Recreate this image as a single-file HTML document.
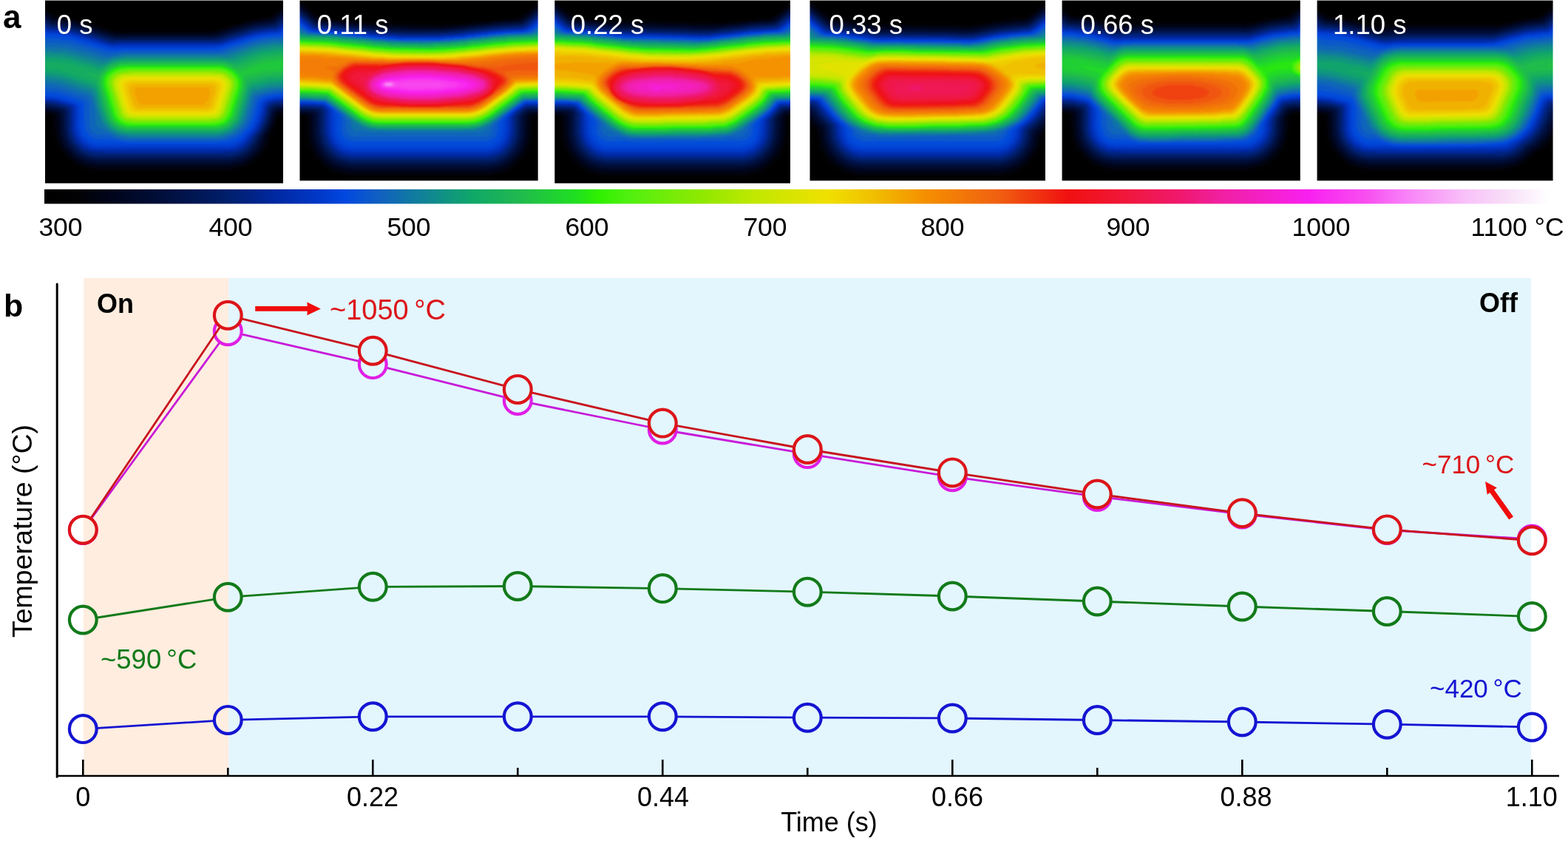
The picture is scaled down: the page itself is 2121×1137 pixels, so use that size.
<!DOCTYPE html><html><head><meta charset="utf-8"><title>Temperature</title><style>html,body{margin:0;padding:0;background:#fff;overflow:hidden}svg{display:block}text{font-family:'Liberation Sans', Arial, sans-serif}</style></head><body>
<svg width="2121" height="1137" viewBox="0 0 2121 1137">
<defs>
<filter id="cm" x="0" y="0" width="1" height="1" filterUnits="objectBoundingBox" color-interpolation-filters="sRGB"><feGaussianBlur stdDeviation="1.5"/><feComponentTransfer><feFuncR type="table" tableValues="0.000 0.006 0.004 0.000 0.000 0.000 0.000 0.000 0.000 0.000 0.000 0.000 0.000 0.009 0.052 0.063 0.063 0.063 0.063 0.088 0.121 0.125 0.125 0.149 0.229 0.326 0.406 0.486 0.566 0.651 0.737 0.801 0.861 0.921 0.941 0.941 0.948 0.957 0.957 0.951 0.945 0.941 0.941 0.941 0.941 0.941 0.941 0.941 0.941 0.941 0.941 0.949 0.958 0.966 0.973 0.973 0.973 0.973 0.973 0.973 0.973 0.973 0.973 0.984 1.000"/><feFuncG type="table" tableValues="0.000 0.006 0.012 0.021 0.039 0.057 0.078 0.102 0.125 0.143 0.164 0.197 0.237 0.295 0.360 0.430 0.501 0.572 0.642 0.684 0.717 0.776 0.838 0.902 0.941 0.940 0.930 0.920 0.910 0.910 0.910 0.902 0.892 0.882 0.834 0.768 0.687 0.601 0.530 0.470 0.411 0.331 0.226 0.121 0.068 0.080 0.091 0.094 0.094 0.105 0.125 0.125 0.125 0.125 0.142 0.217 0.292 0.398 0.515 0.615 0.715 0.794 0.860 0.930 1.000"/><feFuncB type="table" tableValues="0.000 0.012 0.055 0.113 0.172 0.231 0.297 0.367 0.438 0.544 0.645 0.727 0.810 0.861 0.774 0.689 0.603 0.516 0.429 0.370 0.320 0.248 0.174 0.078 0.021 0.060 0.040 0.020 0.000 0.000 0.000 0.000 0.000 0.000 0.000 0.000 0.000 0.000 0.011 0.031 0.051 0.063 0.063 0.063 0.094 0.164 0.235 0.317 0.402 0.507 0.627 0.710 0.793 0.876 0.941 0.941 0.941 0.955 0.973 0.973 0.973 0.973 0.973 0.984 1.000"/></feComponentTransfer></filter>
<linearGradient id="cb" x1="0" x2="1" y1="0" y2="0">
<stop offset="0.0000" stop-color="#000000"/>
<stop offset="0.0206" stop-color="#020204"/>
<stop offset="0.0418" stop-color="#000418"/>
<stop offset="0.0835" stop-color="#001040"/>
<stop offset="0.1253" stop-color="#002070"/>
<stop offset="0.1528" stop-color="#0028a0"/>
<stop offset="0.1828" stop-color="#0038c8"/>
<stop offset="0.2000" stop-color="#0048e0"/>
<stop offset="0.2226" stop-color="#1060c0"/>
<stop offset="0.2570" stop-color="#108890"/>
<stop offset="0.2850" stop-color="#10a868"/>
<stop offset="0.3145" stop-color="#20b850"/>
<stop offset="0.3538" stop-color="#20e020"/>
<stop offset="0.3686" stop-color="#30f000"/>
<stop offset="0.3882" stop-color="#50f010"/>
<stop offset="0.4373" stop-color="#90e800"/>
<stop offset="0.4717" stop-color="#c0e800"/>
<stop offset="0.5209" stop-color="#f0e000"/>
<stop offset="0.5504" stop-color="#f0c000"/>
<stop offset="0.5848" stop-color="#f59000"/>
<stop offset="0.6339" stop-color="#f06010"/>
<stop offset="0.6806" stop-color="#f01010"/>
<stop offset="0.7224" stop-color="#f01840"/>
<stop offset="0.7568" stop-color="#f01870"/>
<stop offset="0.7813" stop-color="#f020a0"/>
<stop offset="0.8403" stop-color="#f820f0"/>
<stop offset="0.8796" stop-color="#f850f0"/>
<stop offset="0.9042" stop-color="#f880f8"/>
<stop offset="0.9435" stop-color="#f8c0f8"/>
<stop offset="0.9730" stop-color="#f8e0f8"/>
<stop offset="1.0000" stop-color="#ffffff"/>
</linearGradient>
<clipPath id="c0"><rect x="61" y="1" width="322" height="246.8"/></clipPath>
<clipPath id="c1"><rect x="405.5" y="1" width="322.2" height="243.2"/></clipPath>
<clipPath id="c2"><rect x="750.3" y="1" width="318.7" height="246.8"/></clipPath>
<clipPath id="c3"><rect x="1095.5" y="1" width="318.5" height="243.2"/></clipPath>
<clipPath id="c4"><rect x="1436.6" y="1" width="322.2" height="243.2"/></clipPath>
<clipPath id="c5"><rect x="1781.6" y="1" width="319" height="243.2"/></clipPath>
<linearGradient id="bgf" gradientUnits="userSpaceOnUse" x1="0" y1="0" x2="2121" y2="0"><stop offset="0.05342" stop-color="#fff"/><stop offset="0.05342" stop-color="#ffeddf"/><stop offset="0.14592" stop-color="#ffeddf"/><stop offset="0.14592" stop-color="#e3f6fd"/><stop offset="0.97643" stop-color="#e3f6fd"/><stop offset="0.97643" stop-color="#fff"/></linearGradient>
</defs>
<g clip-path="url(#c0)"><g transform="translate(61 1)" filter="url(#cm)">
<rect x="-12" y="-12" width="346" height="271" fill="#000"/>
<path fill="#040404" d="M333 3 325 4 318 7 305 18 301 20 281 23 227 38 95 38 41 23 19 20 14 18 7 12 0 8 -7 6 -12 6 -12 154 -10 155 1 155 5 156 8 159 9 180 11 189 16 201 23 211 30 218 40 225 52 230 61 232 70 232 71 233 248 233 249 232 263 231 275 227 289 218 296 211 303 201 308 189 310 179 313 174 318 159 321 156 324 155 333 155Z"/>
<path fill="#070707" d="M333 6 325 7 319 10 303 22 277 26 227 41 217 41 216 42 102 42 101 41 95 41 45 26 30 23 17 22 12 20 6 15 -3 10 -12 9 -12 152 4 153 8 154 12 157 12 170 13 171 14 185 17 194 22 203 38 219 47 224 56 227 70 228 71 229 248 229 249 228 263 227 272 224 285 216 297 203 302 194 305 182 311 170 315 157 318 154 321 153 333 152Z"/>
<path fill="#0a0a0a" d="M333 8 330 8 320 12 304 24 281 27 255 34 235 41 220 44 101 44 87 41 67 34 41 27 13 23 -2 13 -12 11 -12 150 -10 151 9 152 12 153 15 156 16 180 19 191 23 199 35 213 42 218 53 223 61 225 69 225 70 226 249 226 269 222 284 213 296 199 300 191 303 180 309 169 314 154 320 151 333 151Z"/>
<path fill="#0d0d0d" d="M333 10 322 13 307 25 280 29 226 45 96 45 42 29 13 25 -2 15 -12 13 -12 149 9 150 13 151 17 154 18 156 19 182 21 189 26 199 39 213 55 221 65 223 254 223 267 220 280 213 291 202 307 169 312 153 316 150 333 149Z"/>
<path fill="#101010" d="M333 12 329 12 322 15 306 27 283 30 260 36 233 45 223 47 98 47 39 30 22 28 21 27 14 27 9 25 -4 16 -12 15 -12 147 12 149 16 150 20 154 21 180 24 190 28 198 43 213 57 219 67 220 68 221 251 221 268 217 280 210 291 198 297 183 305 169 311 151 317 148 333 147Z"/>
<path fill="#121212" d="M333 13 322 17 308 28 281 32 226 48 95 48 41 32 25 29 11 28 0 20 -6 17 -12 16 -12 146 0 146 1 147 15 148 18 149 22 153 23 179 25 187 30 197 41 209 57 217 69 218 70 219 249 219 265 216 278 209 287 200 296 181 303 170 309 151 314 147 333 146Z"/>
<path fill="#151515" d="M333 15 325 17 313 27 307 30 283 33 229 49 93 49 39 33 9 29 -3 20 -12 18 -12 144 6 145 20 148 24 152 25 179 30 193 34 199 42 207 52 213 62 216 69 216 70 217 249 217 267 213 277 207 285 199 289 193 293 183 301 171 309 148 316 145 333 144Z"/>
<path fill="#181818" d="M333 17 325 19 309 31 281 35 231 50 108 50 107 51 96 51 41 35 25 32 10 31 -1 23 -8 20 -12 20 -12 143 10 144 22 147 26 151 26 172 27 173 28 183 31 191 39 202 45 207 58 213 68 214 69 215 250 215 264 212 274 207 285 196 290 185 296 177 302 165 307 148 310 145 313 144 333 143Z"/>
<path fill="#1b1b1b" d="M333 18 323 22 311 32 283 36 257 43 237 50 226 51 225 52 93 52 39 36 8 32 -1 25 -12 21 -12 141 5 142 24 146 28 150 28 173 30 183 35 194 47 206 58 211 68 213 251 213 264 210 276 203 284 194 288 185 295 176 300 166 306 147 311 143 333 141Z"/>
<path fill="#1e1e1e" d="M333 20 326 22 310 34 285 37 229 53 91 53 57 42 37 37 19 35 18 34 10 34 5 32 -4 25 -12 23 -12 140 9 141 27 146 30 150 31 180 36 192 46 203 61 210 66 210 67 211 252 211 264 208 273 203 283 192 285 187 294 175 299 165 304 148 307 143 313 141 333 140Z"/>
<path fill="#212121" d="M333 21 326 24 312 35 292 37 282 40 278 40 231 54 89 54 44 40 23 36 8 35 5 34 -2 28 -12 24 -12 138 11 140 29 145 32 150 32 175 37 190 44 199 51 204 61 208 66 209 253 209 264 206 277 197 285 184 293 174 299 161 303 146 306 142 311 140 332 139 333 138Z"/>
<path fill="#232323" d="M333 23 327 25 315 35 310 37 302 37 301 38 295 38 280 41 234 55 100 55 99 56 92 56 42 41 27 38 21 38 20 37 6 36 -5 28 -12 26 -12 137 8 138 29 143 33 147 34 150 34 176 39 190 51 202 65 207 254 207 268 202 280 190 283 184 292 173 296 165 302 145 306 140 314 138 333 137Z"/>
<path fill="#262626" d="M333 25 327 27 313 38 298 39 282 42 236 56 104 56 103 57 90 57 40 42 24 39 17 39 16 38 7 38 4 37 -5 30 -12 27 -12 136 11 137 32 143 35 146 36 176 38 183 42 191 50 199 61 204 78 205 79 206 240 206 241 205 258 204 269 199 277 191 281 184 289 175 294 166 301 143 305 139 311 137 333 136Z"/>
<path fill="#292929" d="M333 27 330 27 314 39 284 43 232 58 96 58 95 59 84 57 64 50 38 43 22 41 21 40 5 39 -6 31 -12 29 -12 134 13 136 34 142 37 145 38 176 40 183 44 190 51 197 61 202 81 203 82 204 237 204 238 203 258 202 268 197 288 174 293 164 300 141 303 138 316 135 333 134Z"/>
<path fill="#2c2c2c" d="M333 28 327 31 318 39 313 41 304 41 303 42 297 42 281 45 235 59 101 59 100 60 90 60 36 44 19 42 18 41 3 40 -6 33 -12 31 -12 133 10 134 36 141 39 144 40 147 40 174 42 182 46 189 52 195 62 200 67 201 252 201 257 200 267 195 285 175 292 162 298 141 303 136 313 134 333 133Z"/>
<path fill="#2f2f2f" d="M333 30 327 33 316 42 300 43 279 47 232 61 97 61 94 62 84 60 64 53 38 46 22 43 4 42 -8 34 -12 33 -12 131 13 133 38 140 42 144 42 171 44 180 51 191 64 198 69 198 70 199 249 199 250 198 255 198 268 191 284 173 289 164 296 141 300 136 309 133 331 132 333 131Z"/>
<path fill="#323232" d="M333 33 329 34 320 42 315 44 305 44 304 45 291 46 267 52 240 61 229 62 228 63 89 63 35 47 1 43 -7 37 -12 35 -12 129 -11 130 17 132 42 140 45 144 45 172 47 180 49 184 57 192 64 195 69 196 250 196 255 195 262 192 267 188 282 172 288 160 294 139 299 134 312 131 333 130Z"/>
<path fill="#343434" d="M333 35 319 45 304 46 303 47 296 47 286 49 231 65 97 65 94 66 84 64 38 50 22 48 21 47 14 47 13 46 3 46 -2 44 -8 39 -12 38 -12 127 18 130 30 133 46 139 48 142 49 174 51 180 58 188 67 192 114 193 115 194 229 194 230 193 252 192 258 190 264 186 280 170 284 162 291 138 296 133 313 129 333 128Z"/>
<path fill="#373737" d="M333 39 327 42 323 46 318 48 307 48 306 49 299 49 284 52 235 67 103 67 102 68 86 68 38 54 21 52 20 51 3 50 -7 43 -12 41 -12 123 15 125 34 130 50 136 53 139 53 167 55 176 61 184 68 187 93 188 108 191 236 191 237 190 244 190 259 185 265 181 276 170 281 160 288 136 292 132 296 130 310 127 333 126Z"/>
<path fill="#3a3a3a" d="M333 44 323 50 306 51 305 52 299 52 284 55 235 70 100 70 93 72 83 72 57 64 31 58 3 56 -9 47 -12 46 -12 117 18 120 55 132 59 136 60 141 60 170 62 175 66 179 71 181 86 182 96 186 105 188 238 188 239 187 244 187 259 181 270 172 277 160 285 133 288 130 296 127 311 124 333 123Z"/>
<path fill="#3d3d3d" d="M333 51 325 53 306 54 305 55 289 57 241 72 104 72 88 76 80 76 60 70 28 63 -1 62 -2 61 -12 60 -12 111 16 114 59 128 64 135 67 148 69 168 73 172 99 184 109 185 110 186 234 186 235 185 241 185 257 179 269 168 274 158 282 131 286 127 311 121 333 120Z"/>
<path fill="#404040" d="M333 55 294 59 278 63 246 74 109 74 108 75 94 76 83 80 76 80 64 76 29 68 2 67 1 66 -12 65 -12 106 20 110 61 124 66 131 71 151 77 166 87 176 100 182 114 183 115 184 229 184 230 183 239 183 252 179 263 171 270 160 279 130 284 124 304 119 333 117Z"/>
<path fill="#434343" d="M333 58 306 60 290 63 246 77 239 77 238 76 108 76 107 77 94 78 79 84 24 71 -12 69 -12 103 7 104 23 107 62 120 67 126 72 145 79 164 88 174 101 180 113 181 114 182 230 182 231 181 239 181 253 176 264 166 270 153 270 150 275 137 277 128 281 122 304 116 333 114Z"/>
<path fill="#454545" d="M333 61 315 62 314 63 306 63 305 64 295 65 283 68 252 79 242 79 241 78 104 78 91 81 78 87 74 87 33 76 21 75 20 74 3 74 2 73 -12 72 -12 99 16 102 35 107 65 118 68 122 74 144 81 163 90 173 100 178 110 180 234 180 244 178 251 175 262 165 267 155 276 124 280 119 304 113 333 111Z"/>
<path fill="#484848" d="M333 64 316 65 315 66 307 66 306 67 296 68 284 71 256 81 245 81 244 80 101 80 88 84 77 90 71 90 67 88 30 79 -12 76 -12 96 -3 96 -2 97 7 97 8 98 19 99 34 104 37 104 43 107 65 114 70 121 77 147 84 164 89 170 95 174 107 178 237 178 251 173 259 166 264 157 275 121 279 116 303 110 333 108Z"/>
<path fill="#4b4b4b" d="M333 67 309 69 293 72 257 84 252 84 239 81 106 81 92 84 85 87 76 93 71 94 54 89 50 89 30 84 -12 82 -12 90 3 91 4 92 20 94 42 101 67 111 70 115 78 144 86 164 93 171 99 174 112 177 232 177 233 176 239 176 251 171 259 163 268 139 274 117 279 112 308 106 333 105Z"/>
<path fill="#4e4e4e" d="M333 70 299 74 287 77 259 87 243 83 101 83 91 86 83 90 72 99 69 100 61 98 54 98 67 104 70 107 83 154 89 165 98 172 108 175 236 175 248 171 258 161 263 149 263 146 268 133 273 114 276 110 298 104 332 102 333 101Z"/>
<path fill="#515151" d="M333 74 302 77 286 81 262 90 258 90 252 87 241 84 104 84 90 88 80 94 73 103 73 113 87 159 92 166 102 172 110 174 234 174 242 172 248 169 256 161 259 155 269 124 272 109 275 106 295 101 308 100 309 99 333 98Z"/>
<path fill="#545454" d="M333 78 301 82 281 88 267 94 261 94 248 87 238 86 237 85 108 85 107 86 100 86 87 91 77 100 75 105 75 114 88 157 91 162 97 168 103 171 113 172 114 173 230 173 231 172 241 171 247 168 254 161 258 153 260 144 265 131 265 128 269 117 269 106 272 101 302 95 333 94Z"/>
<path fill="#565656" d="M77 104 77 115 89 155 92 161 97 166 108 171 236 171 246 167 254 158 267 118 267 105 265 100 255 92 243 87 102 87 90 91 85 94 79 100Z"/>
<path fill="#595959" d="M78 108 79 117 86 138 86 141 94 161 101 167 110 170 234 170 245 166 251 160 254 154 266 115 265 105 262 100 254 93 241 88 104 88 96 90 86 95 81 100Z"/>
<path fill="#5c5c5c" d="M80 106 81 118 94 158 102 166 112 169 232 169 240 167 244 165 252 155 264 117 264 108 259 99 253 94 240 89 105 89 97 91 87 96 83 100Z"/>
<path fill="#5f5f5f" d="M82 105 82 115 94 155 100 163 105 166 113 168 231 168 239 166 243 164 248 159 252 151 262 118 262 107 258 100 252 95 246 92 238 90 107 90 106 91 101 91 91 95 84 101Z"/>
<path fill="#626262" d="M83 107 83 113 94 151 98 159 106 165 115 167 229 167 238 165 242 163 247 158 250 152 261 116 261 109 257 101 248 94 237 91 108 91 107 92 102 92 92 96 85 102Z"/>
<path fill="#656565" d="M85 106 85 116 92 137 92 140 99 158 107 164 116 166 228 166 229 165 235 165 241 162 246 157 250 148 250 145 259 118 259 107 256 102 252 98 245 94 235 92 110 92 109 93 99 94 91 98Z"/>
<path fill="#676767" d="M86 107 87 118 94 139 94 142 100 157 107 163 117 165 227 165 237 163 245 156 247 152 258 117 258 109 256 104 250 98 241 94 235 94 234 93 111 93 110 94 103 94 93 98 88 103Z"/>
<path fill="#6a6a6a" d="M87 110 95 141 101 156 108 162 118 164 226 164 236 162 242 158 246 151 257 115 256 107 249 99 241 95 234 95 233 94 112 94 111 95 100 96 94 99 89 104Z"/>
<path fill="#6d6d6d" d="M89 107 89 115 101 154 105 159 111 162 118 162 119 163 225 163 226 162 233 162 239 159 242 156 245 150 255 118 255 108 252 103 243 97 233 96 232 95 113 95 98 98 93 101Z"/>
<path fill="#707070" d="M90 108 91 118 102 153 109 160 120 161 121 162 224 162 225 161 235 160 241 155 244 149 254 117 254 109 248 101 240 97 232 97 231 96 114 96 113 97 101 98 95 101Z"/>
<path fill="#737373" d="M92 107 92 117 104 154 110 159 121 160 122 161 222 161 223 160 234 159 240 154 243 148 253 115 252 108 246 101 239 98 230 98 229 97 115 97 114 98 105 98 99 100Z"/>
<path fill="#767676" d="M93 108 93 115 105 153 109 157 114 159 126 159 127 160 217 160 218 159 231 159 235 157 241 150 251 118 251 109 245 102 238 99 226 99 225 98 120 98 119 99 106 99 98 102Z"/>
<path fill="#787878" d="M94 110 95 118 104 148 106 152 114 158 230 158 236 155 239 151 250 116 250 111 247 105 238 100 107 100 99 103 95 107Z"/>
<path fill="#7b7b7b" d="M96 109 96 116 106 149 111 155 116 157 229 157 235 154 239 147 248 118 248 110 246 106 237 101 108 101 100 104Z"/>
<path fill="#7e7e7e" d="M98 109 98 117 107 147 112 154 117 156 227 156 232 154 236 150 247 116 246 109 241 104 235 102 109 102 101 105Z"/>
<path fill="#818181" d="M99 112 100 119 109 148 112 152 120 155 224 155 229 154 234 150 237 144 237 141 245 117 244 109 241 106 233 103 112 103 104 105 100 109Z"/>
<path fill="#848484" d="M101 113 108 140 112 149 115 152 126 153 127 154 217 154 218 153 226 153 229 152 235 144 243 118 243 112 241 108 235 105 227 105 226 104 119 104 118 105 106 106 103 108Z"/>
<path fill="#878787" d="M104 111 104 119 112 145 116 150 122 152 223 152 228 150 232 146 241 117 240 111 237 108 231 106 113 106 107 108Z"/>
<path fill="#898989" d="M106 114 108 125 113 141 116 147 122 150 222 150 229 146 238 120 237 111 231 108 113 108 110 109Z"/>
<path fill="#8c8c8c" d="M110 114 110 121 116 141 121 147 125 148 220 148 225 146 228 142 235 120 234 113 228 110 116 110 113 111Z"/>
<path fill="#8f8f8f" d="M114 117 115 126 121 142 126 145 218 145 221 144 224 141 230 124 230 116 225 113 119 113 115 115Z"/>
<path fill="#929292" d="M121 121 121 125 125 137 132 141 212 141 216 140 220 136 223 128 223 120 221 118 217 117 127 117 122 119Z"/>
</g></g>
<text x="76.8" y="46.3" font-size="36.5" fill="#fff">0 s</text>
<g clip-path="url(#c1)"><g transform="translate(405.5 1)" filter="url(#cm)">
<rect x="-12" y="-12" width="347" height="268" fill="#000"/>
<path fill="#040404" d="M-12 -4 -12 156 0 157 4 159 5 161 5 181 9 199 15 211 21 219 35 231 47 237 65 241 259 241 274 238 289 231 297 225 309 211 315 199 318 188 319 161 321 158 334 156 334 -1 325 0 317 4 299 18 291 22 263 24 262 25 234 27 233 28 224 28 223 29 170 29 169 28 84 26 83 25 65 25 64 24 50 24 49 23 32 22 25 18 5 1 -3 -3Z"/>
<path fill="#070707" d="M-12 -1 -12 154 -11 155 4 155 9 158 10 161 10 184 14 199 23 214 32 223 39 228 47 232 62 236 262 236 277 232 285 228 292 223 301 214 306 207 310 199 314 184 314 161 315 158 320 155 333 155 334 154 334 2 325 3 319 6 301 20 293 24 272 25 271 26 262 26 261 27 225 30 224 31 214 31 213 32 183 33 182 32 97 30 96 29 85 29 84 28 73 28 72 27 30 24 23 20 1 2 -7 -1Z"/>
<path fill="#0a0a0a" d="M-12 1 -12 153 9 154 12 156 13 158 14 187 17 197 22 207 35 221 49 229 66 233 258 233 259 232 269 231 285 224 302 207 307 197 310 187 311 158 312 156 315 154 334 153 334 4 329 4 318 9 303 21 296 25 257 28 256 29 248 29 247 30 239 30 238 31 230 31 220 33 210 33 209 34 176 35 175 34 143 34 142 33 96 32 95 31 86 31 76 29 27 25 2 5 -7 1Z"/>
<path fill="#0d0d0d" d="M-12 2 -12 152 7 152 12 153 15 155 16 157 16 181 20 197 27 209 37 219 49 226 65 230 259 230 275 226 287 219 297 209 301 203 307 187 308 158 312 153 317 152 334 152 334 5 323 8 300 25 294 27 270 28 269 29 260 29 259 30 214 34 213 35 202 35 201 36 145 36 144 35 101 34 100 33 91 33 90 32 53 29 52 28 29 27 22 24 2 7 -6 3Z"/>
<path fill="#101010" d="M-12 4 -12 151 11 151 15 152 18 155 19 184 22 195 26 203 32 211 40 218 51 224 62 227 73 227 74 228 250 228 251 227 267 226 284 218 292 211 298 203 302 195 305 184 306 156 310 152 313 151 334 151 334 7 330 7 321 11 303 25 296 28 272 29 271 30 262 30 261 31 253 31 252 32 244 32 243 33 235 33 234 34 226 34 216 36 205 36 204 37 154 38 153 37 109 36 108 35 88 34 87 33 51 30 50 29 27 28 21 25 -1 7 -8 4Z"/>
<path fill="#121212" d="M-12 5 -12 149 -8 150 14 150 18 151 21 155 21 181 25 196 31 206 40 215 50 221 65 225 259 225 260 224 265 224 274 221 284 215 293 206 297 200 302 187 302 182 303 181 303 158 304 155 311 150 330 150 334 149 334 8 328 9 322 12 304 26 298 29 274 30 273 31 254 32 253 33 208 37 207 38 193 38 192 39 142 39 141 38 106 37 105 36 96 36 95 35 87 35 86 34 78 34 77 33 69 33 59 31 26 29 20 26 -2 8Z"/>
<path fill="#151515" d="M-12 7 -12 148 17 149 20 150 23 153 23 180 27 195 33 205 41 213 51 219 66 223 258 223 259 222 264 222 273 219 283 213 291 205 295 199 300 186 300 181 301 180 301 157 307 150 310 149 334 148 334 10 330 10 321 14 306 26 299 30 275 31 274 32 255 33 246 35 238 35 237 36 229 36 219 38 209 38 208 39 196 39 195 40 131 40 130 39 115 39 114 38 94 37 93 36 48 32 47 31 25 30 19 27 -1 10 -8 7Z"/>
<path fill="#181818" d="M-12 8 -12 147 19 148 22 149 25 152 25 179 28 192 34 203 43 212 54 218 67 221 257 221 267 219 281 212 292 200 298 185 299 157 305 150 309 148 334 147 334 11 331 11 322 15 300 31 266 33 265 34 257 34 256 35 248 35 247 36 239 36 238 37 230 37 220 39 211 39 210 40 198 40 197 41 126 41 125 40 102 39 101 38 93 38 92 37 84 37 83 36 57 34 56 33 24 31 17 27 -2 11 -9 8Z"/>
<path fill="#1b1b1b" d="M-12 9 -12 146 21 147 24 148 27 151 27 178 31 194 36 202 44 210 52 215 68 219 256 219 257 218 263 218 272 215 280 210 288 202 292 196 296 185 297 157 304 149 308 147 334 146 334 12 326 14 301 32 267 34 266 35 258 35 257 36 249 36 248 37 240 37 239 38 231 38 221 40 212 40 211 41 200 41 199 42 124 42 123 41 101 40 100 39 92 39 91 38 83 38 82 37 74 37 73 36 65 36 55 34 23 32 19 30 -3 12Z"/>
<path fill="#1e1e1e" d="M-12 10 -12 145 23 146 26 147 29 150 29 178 32 191 37 200 46 209 55 214 68 217 256 217 257 216 262 216 269 214 278 209 289 197 293 188 295 178 295 157 302 149 307 146 334 145 334 13 325 16 302 33 269 35 268 36 259 36 258 37 213 41 212 42 201 42 200 43 144 44 143 43 110 42 109 41 100 41 99 40 91 40 90 39 82 39 81 38 73 38 72 37 64 37 54 35 22 33 18 31 -2 14Z"/>
<path fill="#212121" d="M-12 12 -12 144 11 144 12 145 25 145 28 146 31 149 31 178 35 193 44 205 51 210 58 213 68 215 256 215 257 214 262 214 276 208 283 202 288 195 291 188 293 178 293 157 300 149 306 145 311 145 312 144 334 144 334 15 331 15 324 18 309 30 302 34 270 36 269 37 260 37 259 38 214 42 213 43 203 43 202 44 140 45 139 44 120 44 119 43 99 42 98 41 90 41 89 40 81 40 80 39 72 39 62 37 21 34 -6 13Z"/>
<path fill="#232323" d="M-12 13 -12 143 14 143 15 144 30 145 33 149 33 178 36 190 42 200 50 207 56 210 68 213 256 213 257 212 262 212 274 207 285 196 288 190 291 178 291 157 297 150 304 145 310 143 334 143 334 16 325 19 307 33 297 36 271 37 270 38 261 38 260 39 252 39 251 40 243 40 242 41 234 41 233 42 225 42 215 44 188 45 187 46 136 46 135 45 119 45 118 44 98 43 97 42 52 38 51 37 20 35 -2 17 -7 14Z"/>
<path fill="#262626" d="M-12 14 -12 142 17 142 18 143 29 143 35 148 35 178 39 192 48 203 59 209 68 211 256 211 270 207 276 203 285 192 289 178 289 157 294 151 305 143 309 142 334 142 334 17 324 21 306 35 299 37 272 38 271 39 262 39 261 40 253 40 252 41 244 41 243 42 235 42 234 43 226 43 216 45 190 46 189 47 134 47 133 46 106 45 105 44 97 44 96 43 88 43 87 42 79 42 78 41 70 41 60 39 51 39 50 38 19 36 0 20 -6 16Z"/>
<path fill="#292929" d="M-12 16 -12 140 -10 141 19 141 20 142 30 142 34 144 37 148 37 176 40 189 45 197 57 206 70 209 254 209 255 208 260 208 267 206 275 201 283 191 287 176 287 157 291 152 303 143 308 141 332 141 334 140 334 19 331 19 325 22 307 36 300 38 273 39 272 40 263 40 262 41 254 41 253 42 245 42 244 43 236 43 235 44 227 44 217 46 207 46 206 47 192 47 191 48 132 48 131 47 105 46 104 45 96 45 95 44 87 44 86 43 78 43 77 42 69 42 59 40 50 40 49 39 18 37 -5 18 -9 16Z"/>
<path fill="#2c2c2c" d="M-12 17 -12 139 -8 140 21 140 22 141 31 141 35 143 39 148 39 153 40 154 40 180 42 187 45 193 53 201 59 204 66 206 258 206 271 201 279 193 284 180 285 157 293 149 307 140 330 140 334 139 334 20 326 23 311 35 302 39 274 40 273 41 264 41 263 42 255 42 254 43 246 43 245 44 237 44 236 45 228 45 218 47 208 47 207 48 194 48 193 49 131 49 130 48 104 47 103 46 95 46 94 45 86 45 85 44 77 44 76 43 68 43 58 41 49 41 48 40 21 39 13 35 -6 19Z"/>
<path fill="#2f2f2f" d="M-12 19 -12 138 -7 138 -6 139 22 139 23 140 31 140 37 143 42 150 42 175 44 185 47 191 55 199 61 202 71 204 253 204 254 203 259 203 269 199 277 191 280 185 282 175 282 159 290 150 302 141 307 139 329 139 334 138 334 22 331 22 327 24 312 36 303 40 275 41 274 42 265 42 264 43 255 43 246 45 238 45 237 46 229 46 219 48 209 48 208 49 195 49 194 50 129 50 128 49 114 49 113 48 94 47 93 46 48 42 47 41 20 40 12 36 -6 21Z"/>
<path fill="#323232" d="M-12 20 -12 137 32 139 41 145 45 150 45 155 46 156 46 179 47 183 52 192 63 199 67 200 257 200 267 196 274 189 278 179 279 160 287 151 306 138 334 137 334 23 330 24 310 39 304 41 288 41 287 42 265 43 264 44 256 44 255 45 247 45 246 46 238 46 237 47 229 47 219 49 209 49 208 50 196 50 195 51 129 51 128 50 103 49 102 48 94 48 93 47 85 47 84 46 76 46 75 45 67 45 57 43 48 43 47 42 19 41 12 38 -4 24Z"/>
<path fill="#343434" d="M-12 22 -12 136 -7 136 -6 137 22 137 23 138 32 138 38 141 46 148 50 154 50 176 54 187 59 192 70 196 254 196 265 192 270 187 274 176 274 164 276 160 284 152 300 140 306 137 334 136 334 25 328 27 313 39 304 42 275 43 274 44 265 44 264 45 256 45 255 46 247 46 246 47 238 47 237 48 229 48 219 50 209 50 208 51 195 51 194 52 129 52 128 51 103 50 102 49 94 49 93 48 85 48 84 47 76 47 75 46 67 46 57 44 48 44 47 43 19 42 11 39 -4 26Z"/>
<path fill="#373737" d="M-12 24 -12 135 32 137 41 142 55 156 56 159 56 176 59 183 63 187 70 190 254 190 261 187 265 183 268 176 269 165 281 153 297 141 306 136 329 136 334 135 334 27 330 28 314 40 304 43 275 44 274 45 265 45 264 46 255 46 254 47 246 47 237 49 209 51 208 52 195 52 194 53 131 53 130 52 115 52 114 51 94 50 93 49 59 46 58 45 14 42 7 38 -7 26Z"/>
<path fill="#3a3a3a" d="M-12 26 -12 134 -9 135 20 135 21 136 32 136 37 138 59 156 62 162 63 176 68 182 73 184 251 184 256 182 260 178 263 168 273 158 301 137 306 135 331 135 334 134 334 29 329 31 319 39 311 43 274 45 273 46 264 46 263 47 255 47 254 48 246 48 245 49 237 49 236 50 228 50 218 52 208 52 207 53 193 53 192 54 133 54 132 53 116 53 115 52 95 51 94 50 49 46 48 45 12 43Z"/>
<path fill="#3d3d3d" d="M-12 29 -12 133 -11 134 18 134 19 135 32 135 35 136 56 151 68 163 71 173 75 176 95 177 96 178 239 178 240 177 247 177 252 175 271 158 303 135 307 134 334 134 334 32 330 33 320 41 312 44 273 46 272 47 263 47 262 48 254 48 253 49 245 49 244 50 236 50 226 52 191 54 190 55 135 55 134 54 117 54 116 53 96 52 95 51 50 47 49 46 11 44 4 41 -5 33Z"/>
<path fill="#404040" d="M-12 33 -12 133 15 133 16 134 35 135 58 151 74 165 84 171 93 174 114 175 115 176 220 176 221 175 237 175 253 170 303 134 308 133 334 133 334 35 321 43 313 45 272 47 271 48 262 48 261 49 216 53 215 54 205 54 204 55 138 56 137 55 118 55 117 54 97 53 96 52 51 48 50 47 40 47 39 46 10 45 1 42 -6 36Z"/>
<path fill="#434343" d="M-12 39 -12 132 12 132 13 133 35 134 53 146 73 162 92 172 102 174 233 174 243 172 257 166 302 133 334 132 334 41 326 44 316 45 315 46 282 47 281 48 261 49 260 50 215 54 214 55 204 55 203 56 140 57 139 56 120 56 119 55 98 54 97 53 89 53 88 52 80 52 79 51 71 51 70 50 62 50 52 48 9 46 8 45 -2 44Z"/>
<path fill="#454545" d="M-12 45 -12 131 29 132 38 134 78 164 85 168 97 172 104 172 105 173 230 173 231 172 238 172 248 169 258 164 302 132 334 131 334 45 317 46 316 47 281 48 280 49 260 50 259 51 251 51 250 52 242 52 241 53 233 53 223 55 202 56 201 57 182 57 181 58 121 57 120 56 99 55 98 54 53 50 52 49 42 49 41 48 8 47 7 46Z"/>
<path fill="#484848" d="M-12 46 -12 130 36 132 80 164 88 168 98 171 104 171 105 172 230 172 231 171 238 171 248 168 261 161 302 131 334 130 334 46 331 47 318 47 317 48 280 49 279 50 269 50 268 51 260 51 259 52 251 52 250 53 242 53 241 54 233 54 223 56 214 56 213 57 180 58 179 59 122 58 121 57 99 56 98 55 90 55 89 54 81 54 80 53 54 51 53 50 43 50 42 49 6 48 5 47Z"/>
<path fill="#4b4b4b" d="M-12 48 -12 129 36 131 82 164 98 170 104 170 105 171 230 171 231 170 238 170 248 167 256 163 302 130 334 129 334 48 280 50 279 51 259 52 258 53 250 53 249 54 224 56 223 57 201 58 200 59 178 59 177 60 122 59 121 58 90 56 89 55 54 52 53 51 43 51 42 50Z"/>
<path fill="#4e4e4e" d="M-12 49 -12 128 36 130 79 161 88 166 97 169 103 169 104 170 231 170 232 169 238 169 248 166 256 162 302 129 334 128 334 49 280 51 279 52 269 52 268 53 260 53 259 54 251 54 250 55 242 55 241 56 233 56 223 58 214 58 213 59 179 60 178 61 123 60 122 59 99 58 98 57 90 57 89 56 81 56 80 55 54 53 53 52 43 52 42 51Z"/>
<path fill="#515151" d="M-12 50 -12 127 8 127 9 128 36 129 43 133 79 160 88 165 97 168 102 168 103 169 232 169 233 168 238 168 248 165 259 159 301 128 334 127 334 50 281 52 280 53 260 54 259 55 251 55 250 56 242 56 241 57 233 57 223 59 202 60 201 61 182 61 181 62 123 61 122 60 109 60 108 59 99 59 98 58 53 54 52 53 42 53 41 52Z"/>
<path fill="#545454" d="M-12 51 -12 126 10 126 11 127 36 128 84 162 97 167 102 168 233 168 234 167 239 167 248 164 259 158 301 127 334 126 334 51 281 53 280 54 270 54 269 55 261 55 260 56 252 56 251 57 243 57 242 58 234 58 224 60 203 61 202 62 184 62 183 63 124 62 123 61 98 60 97 59 89 59 88 58 80 58 79 57 53 55 52 54 42 54 41 53Z"/>
<path fill="#565656" d="M-12 52 -12 125 11 125 12 126 36 127 84 161 96 166 101 167 234 167 243 165 259 157 301 126 334 125 334 52 282 54 281 55 261 56 260 57 252 57 251 58 243 58 242 59 234 59 224 61 203 62 202 63 184 63 183 64 125 63 124 62 98 61 97 60 89 60 88 59 80 59 79 58 71 58 70 57 62 57 52 55 41 55 40 54Z"/>
<path fill="#595959" d="M-12 53 -12 124 30 125 39 127 84 160 100 166 235 166 246 163 259 156 301 125 334 124 334 53 281 55 280 56 270 56 269 57 261 57 260 58 252 58 251 59 243 59 242 60 234 60 224 62 203 63 202 64 183 64 182 65 110 63 109 62 98 62 97 61 89 61 88 60 80 60 79 59 53 57 52 56 42 56 41 55Z"/>
<path fill="#5c5c5c" d="M-12 54 -12 123 29 124 39 126 84 159 92 163 100 165 109 165 110 166 225 166 226 165 236 165 246 162 259 155 301 124 334 123 334 54 280 56 279 57 269 57 268 58 260 58 259 59 251 59 250 60 242 60 241 61 233 61 223 63 214 63 213 64 179 65 178 66 173 65 111 64 110 63 99 63 98 62 90 62 89 61 81 61 80 60 72 60 71 59 63 59 53 57 43 57 42 56Z"/>
<path fill="#5f5f5f" d="M-12 55 -12 122 26 123 27 124 39 125 84 158 99 164 105 164 106 165 229 165 230 164 237 164 244 162 256 156 301 123 334 122 334 55 278 57 277 58 258 59 257 60 249 60 240 62 212 64 211 65 199 65 198 66 114 65 113 64 91 63 90 62 45 58 44 57Z"/>
<path fill="#626262" d="M-12 56 -12 121 -7 121 -6 122 22 122 23 123 38 124 84 157 98 163 103 163 104 164 231 164 232 163 237 163 249 159 256 155 299 123 302 122 328 122 329 121 334 121 334 56 288 57 287 58 276 58 275 59 266 59 265 60 256 60 247 62 210 65 209 66 196 66 195 67 117 66 116 65 103 65 102 64 93 64 92 63 47 59 46 58 35 58 34 57Z"/>
<path fill="#656565" d="M-12 56 -12 121 17 121 18 122 38 123 82 155 89 159 102 163 233 163 242 161 256 154 299 122 304 122 305 121 334 121 334 56 285 58 284 59 263 60 262 61 254 61 253 62 245 62 244 63 236 63 235 64 227 64 217 66 190 67 189 68 121 67 120 66 106 66 105 65 96 65 95 64 50 60 49 59 38 59 37 58Z"/>
<path fill="#676767" d="M-12 57 -12 120 9 120 10 121 38 122 82 154 91 159 101 162 234 162 245 159 253 155 299 121 334 120 334 57 281 59 280 60 260 61 259 62 251 62 250 63 225 65 224 66 202 67 201 68 182 68 181 69 110 67 109 66 89 65 88 64 53 61 52 60 42 60 41 59Z"/>
<path fill="#6a6a6a" d="M-12 58 -12 119 24 120 25 121 40 122 85 155 100 161 107 161 108 162 227 162 228 161 235 161 243 159 253 154 284 132 297 121 334 119 334 58 310 58 309 59 277 60 276 61 257 62 248 64 240 64 239 65 231 65 221 67 211 67 210 68 198 68 197 69 114 68 113 67 92 66 91 65 46 61 45 60 13 59 12 58Z"/>
<path fill="#6d6d6d" d="M-12 58 -12 118 -11 119 18 119 19 120 39 121 85 154 99 160 104 160 105 161 230 161 231 160 237 160 246 157 255 152 298 120 303 120 304 119 333 119 334 118 334 58 285 60 284 61 274 61 273 62 254 63 253 64 228 66 227 67 207 68 206 69 191 69 190 70 118 69 117 68 95 67 94 66 86 66 85 65 50 62 49 61Z"/>
<path fill="#707070" d="M-12 59 -12 118 29 119 30 120 41 121 83 152 92 157 103 160 232 160 244 157 252 153 298 119 334 118 334 59 281 61 280 62 260 63 259 64 251 64 250 65 225 67 224 68 202 69 201 70 181 70 180 71 123 70 122 69 109 69 108 68 89 67 88 66 53 63 52 62 42 62 41 61Z"/>
<path fill="#737373" d="M-12 60 -12 117 -6 117 -5 118 24 118 25 119 41 120 86 153 94 157 102 159 234 159 244 156 252 152 296 119 334 117 334 60 289 61 288 62 277 62 276 63 267 63 266 64 257 64 256 65 248 65 239 67 211 69 210 70 197 70 196 71 131 71 130 70 102 69 101 68 93 68 92 67 84 67 83 66 75 66 74 65 66 65 56 63 46 63 45 62 34 62 33 61Z"/>
<path fill="#767676" d="M-12 60 -12 117 17 117 18 118 40 119 86 152 100 158 108 158 109 159 226 159 227 158 235 158 247 154 297 118 334 117 334 60 285 62 284 63 263 64 262 65 254 65 253 66 245 66 244 67 227 68 217 70 190 71 189 72 117 71 116 70 96 69 95 68 50 64 49 63Z"/>
<path fill="#787878" d="M-12 61 -12 116 29 117 30 118 42 119 89 153 99 157 104 157 105 158 230 158 231 157 236 157 245 154 254 149 295 118 298 117 334 116 334 61 280 63 279 64 260 65 259 66 214 70 213 71 178 72 177 73 122 72 121 71 99 70 98 69 53 65 52 64 43 64 42 63Z"/>
<path fill="#7b7b7b" d="M-12 62 -12 115 24 116 25 117 42 118 87 151 93 154 104 157 232 157 243 154 251 150 295 117 334 115 334 62 289 63 288 64 266 65 265 66 248 67 239 69 210 71 209 72 197 72 196 73 128 73 127 72 102 71 101 70 92 70 83 68 75 68 74 67 66 67 56 65 46 65 45 64 34 64 33 63Z"/>
<path fill="#7e7e7e" d="M-12 62 -12 114 -10 115 19 115 20 116 41 117 48 121 87 150 102 156 233 156 241 154 251 149 287 123 293 117 304 116 305 115 334 115 334 62 285 64 284 65 273 65 272 66 254 67 253 68 228 70 227 71 207 72 206 73 191 73 190 74 116 73 115 72 95 71 94 70 49 66 48 65 38 65 37 64 -8 63Z"/>
<path fill="#818181" d="M-12 63 -12 114 13 114 14 115 41 116 48 120 87 149 101 155 108 155 109 156 226 156 227 155 235 155 244 152 253 147 296 115 334 114 334 63 282 65 281 66 261 67 260 68 243 69 234 71 203 73 202 74 183 74 182 75 120 74 119 73 97 72 96 71 88 71 87 70 79 70 78 69 70 69 69 68 61 68 51 66 41 66 40 65Z"/>
<path fill="#848484" d="M-12 64 -12 113 29 114 30 115 43 116 85 147 94 152 106 155 229 155 230 154 235 154 250 148 294 115 297 114 334 113 334 64 279 66 278 67 259 68 258 69 213 73 212 74 201 74 200 75 124 75 123 74 99 73 98 72 53 68 52 67 43 67 42 66Z"/>
<path fill="#878787" d="M-12 65 -12 112 28 113 29 114 43 115 88 148 96 152 104 154 231 154 240 152 250 147 282 124 293 114 334 112 334 65 309 65 308 66 277 67 276 68 267 68 266 69 258 69 257 70 249 70 248 71 240 71 239 72 222 73 221 74 212 74 211 75 198 75 197 76 127 76 126 75 90 73 89 72 54 69 53 68 43 68 42 67Z"/>
<path fill="#898989" d="M-12 66 -12 111 29 112 30 113 43 114 88 147 103 153 232 153 240 151 250 146 282 123 293 113 334 111 334 66 288 67 287 68 276 68 275 69 266 69 265 70 248 71 239 73 211 75 210 76 197 76 196 77 113 76 112 75 100 75 99 74 90 74 89 73 81 73 80 72 72 72 71 71 63 71 53 69 43 69 42 68Z"/>
<path fill="#8c8c8c" d="M334 66 333 67 305 67 304 68 276 69 275 70 266 70 265 71 257 71 248 73 212 76 211 77 197 77 196 78 114 77 113 76 89 75 88 74 51 71 50 70 40 70 39 69 -12 67 -12 110 16 110 17 111 41 112 48 116 88 146 102 152 111 152 112 153 223 153 224 152 233 152 247 147 282 122 293 112 299 112 300 111 330 111 334 110Z"/>
<path fill="#8f8f8f" d="M334 68 289 69 288 70 277 70 276 71 267 71 266 72 258 72 249 74 213 77 212 78 197 78 196 79 184 79 183 78 115 78 114 77 98 77 97 76 87 76 86 75 77 75 76 74 48 72 47 71 35 71 34 70 -12 69 -12 108 23 109 24 110 42 111 82 141 93 148 102 151 108 151 109 152 227 152 228 151 238 150 247 146 278 124 292 111 334 109Z"/>
<path fill="#929292" d="M334 69 291 70 290 71 269 72 268 73 260 73 259 74 251 74 250 75 215 78 214 79 116 79 115 78 97 78 96 77 73 76 72 75 42 73 41 72 -12 70 -12 107 14 107 15 108 30 108 31 109 43 110 85 142 93 147 101 150 106 150 107 151 228 151 229 150 235 150 247 145 279 122 292 110 334 108Z"/>
<path fill="#959595" d="M334 70 281 72 280 73 271 73 270 74 253 75 252 76 218 79 217 80 117 80 116 79 95 79 94 78 68 77 67 76 33 74 32 73 -12 72 -12 105 26 106 27 107 42 108 51 116 88 143 95 147 106 150 229 150 230 149 235 149 247 144 279 121 291 109 295 108 334 107Z"/>
<path fill="#989898" d="M334 71 285 73 284 74 274 74 273 75 256 76 255 77 222 80 221 81 184 81 183 80 118 81 117 80 93 80 92 79 77 79 76 78 58 78 57 77 31 76 30 75 -8 75 -12 74 -12 102 -10 103 28 104 29 105 42 106 54 117 93 145 105 149 230 149 241 146 253 139 280 119 292 107 334 106Z"/>
<path fill="#9a9a9a" d="M334 72 331 73 307 73 306 74 279 75 278 76 261 77 260 78 228 81 227 82 192 82 191 81 125 81 121 82 120 81 92 81 91 80 55 81 54 80 33 80 32 79 -12 80 -12 97 9 98 10 99 19 99 20 100 40 102 53 115 84 138 98 146 105 148 230 148 241 145 257 135 277 120 285 112 287 108 290 106 297 106 298 105 331 105 334 104Z"/>
<path fill="#9d9d9d" d="M334 74 279 77 278 78 270 78 269 79 262 79 261 80 239 82 238 83 199 83 198 82 181 82 180 81 144 81 143 82 70 81 49 89 35 89 32 90 45 95 46 105 52 113 92 142 105 147 230 147 243 143 258 133 278 118 283 113 285 108 289 104 334 103Z"/>
<path fill="#a0a0a0" d="M334 77 293 79 292 80 285 80 284 81 277 81 276 82 263 83 256 85 245 85 244 86 204 84 203 83 188 83 187 82 136 82 135 83 73 82 65 84 55 90 49 96 47 102 48 106 55 114 89 139 101 145 106 146 148 146 149 147 230 146 238 144 246 140 275 119 282 112 284 107 284 103 286 101 294 101 295 100 334 100Z"/>
<path fill="#a3a3a3" d="M49 104 50 107 58 115 91 139 102 144 107 145 140 145 141 146 229 145 240 142 247 138 273 119 281 111 282 106 277 98 278 95 286 95 287 94 332 95 334 94 334 82 294 85 293 86 280 87 267 90 236 88 235 87 208 85 207 84 178 83 177 82 148 82 147 83 130 83 129 84 75 83 74 84 69 84 54 93 50 98Z"/>
<path fill="#a6a6a6" d="M51 100 52 107 60 115 95 140 108 144 189 145 190 144 227 144 228 143 233 143 245 138 260 128 271 119 279 111 280 108 276 101 261 93 248 90 241 90 240 89 234 89 219 86 186 84 185 83 140 83 139 84 127 84 126 85 71 85 59 91Z"/>
<path fill="#a9a9a9" d="M53 100 54 107 61 114 84 131 98 140 112 143 192 144 193 143 232 142 244 137 257 129 277 111 277 105 274 102 265 97 254 93 233 90 221 87 191 85 190 84 135 84 134 85 124 85 123 86 113 86 112 87 107 87 106 86 73 86 60 92Z"/>
<path fill="#ababab" d="M55 100 55 105 61 112 94 136 102 140 107 141 133 142 134 143 193 143 194 142 213 142 214 141 234 140 257 128 275 110 275 107 272 103 263 98 252 94 215 87 182 85 181 84 144 84 143 85 131 85 130 86 114 87 113 88 76 87 64 91Z"/>
<path fill="#aeaeae" d="M57 102 58 106 65 113 97 136 105 139 132 141 133 142 195 142 196 141 231 139 240 136 258 126 272 110 272 107 265 101 247 94 243 94 223 89 199 87 198 86 187 86 186 85 140 85 139 86 129 86 113 89 74 89 63 94 58 99Z"/>
<path fill="#b1b1b1" d="M60 102 61 106 67 112 88 128 101 136 108 138 122 139 123 140 149 141 150 142 196 141 197 140 208 140 209 139 220 139 221 138 233 137 246 132 255 127 262 120 268 111 268 107 264 103 246 95 218 89 190 87 189 86 137 86 136 87 127 87 107 91 74 91 64 96Z"/>
<path fill="#b4b4b4" d="M64 102 65 106 71 112 80 118 91 128 101 134 117 138 131 139 132 140 144 140 145 141 182 141 183 140 196 140 197 139 207 139 208 138 217 138 218 137 230 136 243 132 255 126 260 121 264 112 264 108 262 105 253 99 242 95 211 89 192 88 191 87 176 87 175 86 136 87 135 88 120 89 104 93 78 93 69 96 66 98Z"/>
<path fill="#b7b7b7" d="M70 101 70 105 72 108 80 114 91 126 98 131 113 136 131 138 132 139 182 140 183 139 196 139 197 138 206 138 207 137 228 135 245 130 253 126 259 120 261 116 260 107 255 102 247 98 219 91 193 89 192 88 178 88 177 87 135 88 134 89 126 89 125 90 115 91 98 96 76 97Z"/>
<path fill="#bababa" d="M81 104 81 107 83 109 88 120 96 128 104 132 114 135 132 137 133 138 145 138 146 139 181 139 182 138 205 137 206 136 213 136 214 135 221 135 242 130 254 124 257 121 260 113 258 107 254 103 241 97 211 91 192 90 191 89 177 89 176 88 150 88 149 89 136 89 135 90 121 91 111 93Z"/>
<path fill="#bcbcbc" d="M88 110 88 115 90 120 97 127 111 133 127 136 134 136 135 137 193 137 194 136 203 136 204 135 225 133 241 129 252 124 258 116 258 111 256 107 250 102 243 99 223 94 202 92 201 91 190 91 189 90 137 90 136 91 122 92 112 94 95 101 89 107Z"/>
<path fill="#bfbfbf" d="M90 111 91 119 98 126 109 131 122 134 137 135 138 136 190 136 191 135 217 133 243 127 251 123 256 117 256 110 254 107 249 103 242 100 215 94 187 92 186 91 140 91 139 92 130 92 129 93 118 94 107 97 98 101 93 105Z"/>
<path fill="#c2c2c2" d="M92 110 92 117 95 122 99 125 114 131 130 133 131 134 141 134 142 135 186 135 187 134 197 134 198 133 221 131 244 125 251 121 255 114 252 107 243 102 234 99 213 95 183 93 182 92 144 92 143 93 133 93 132 94 120 95 111 97 101 101Z"/>
<path fill="#c5c5c5" d="M93 113 94 118 100 124 106 127 121 131 133 132 134 133 146 133 147 134 180 134 181 133 193 133 194 132 203 132 204 131 224 129 243 124 251 119 253 115 252 110 248 106 236 101 210 96 177 94 176 93 150 93 149 94 137 94 136 95 128 95 127 96 117 97 107 100 99 104 95 108Z"/>
<path fill="#c8c8c8" d="M95 112 96 118 101 123 107 126 123 130 137 131 138 132 189 132 190 131 216 129 241 123 247 120 251 115 250 110 248 108 234 102 214 98 186 96 185 95 141 95 140 96 124 97 111 100 100 105Z"/>
<path fill="#cbcbcb" d="M97 111 98 118 106 124 120 128 132 129 133 130 142 130 143 131 184 131 185 130 213 128 237 123 244 120 248 116 248 111 245 108 236 104 218 100 194 98 193 97 181 97 180 96 146 96 145 97 135 97 134 98 121 99 107 103 100 107Z"/>
<path fill="#cdcdcd" d="M99 112 99 116 104 121 114 125 129 128 153 129 154 130 173 130 174 129 191 129 192 128 210 127 231 123 242 119 246 115 246 112 243 109 237 106 226 103 209 101 208 100 200 100 199 99 170 98 169 97 139 98 138 99 130 99 129 100 119 101 111 103 103 107Z"/>
<path fill="#d0d0d0" d="M101 113 102 117 110 122 120 125 125 125 132 127 141 127 142 128 185 128 186 127 197 127 198 126 213 125 235 120 241 117 243 114 242 111 239 109 223 104 204 102 203 101 195 101 194 100 182 100 181 99 145 99 144 100 134 100 133 101 121 102 106 107Z"/>
<path fill="#d3d3d3" d="M104 112 104 115 106 118 115 122 129 125 153 126 154 127 173 127 174 126 190 126 191 125 209 124 229 120 236 117 239 114 236 110 224 106 208 104 207 103 199 103 198 102 170 101 169 100 140 101 139 102 119 104 108 108Z"/>
<path fill="#d6d6d6" d="M106 113 109 118 117 121 134 123 135 124 144 124 145 125 182 125 183 124 203 123 204 122 210 122 225 119 233 115 233 113 231 111 220 107 202 105 201 104 192 104 191 103 179 103 178 102 148 102 147 103 122 105 113 107 109 109Z"/>
<path fill="#d9d9d9" d="M108 112 109 116 115 119 133 121 134 122 143 122 144 123 194 122 195 121 215 119 222 117 226 114 225 112 214 108 193 106 192 105 181 105 180 104 136 105 135 106 118 107 111 109Z"/>
<path fill="#dcdcdc" d="M110 112 110 115 116 118 135 119 136 120 145 120 146 121 192 120 193 119 210 117 216 114 216 113 209 110 199 109 198 108 190 108 189 107 179 107 178 106 148 106 147 107 138 107 137 108 117 108Z"/>
<path fill="#dedede" d="M111 112 111 114 115 117 137 116 145 118 182 118 183 117 190 117 199 114 197 112 188 110 181 110 180 109 146 109 138 111 131 111 127 109 116 109Z"/>
<path fill="#e1e1e1" d="M112 114 115 116 123 117 129 115 130 113 126 110 116 110Z"/>
<path fill="#e4e4e4" d="M113 113 118 116 124 116 128 113 123 110 115 111Z"/>
<path fill="#e7e7e7" d="M115 112 115 114 117 115 124 115 126 113 123 111Z"/>
<path fill="#eaeaea" d="M117 114 123 114 124 113 123 112 118 112Z"/>
</g></g>
<text x="428.8" y="46.3" font-size="36.5" fill="#fff">0.11 s</text>
<g clip-path="url(#c2)"><g transform="translate(750.3 1)" filter="url(#cm)">
<rect x="-12" y="-12" width="343" height="271" fill="#000"/>
<path fill="#040404" d="M-12 -4 -12 156 0 157 4 159 5 161 5 181 9 199 15 211 21 219 35 231 47 237 65 241 259 241 274 238 289 231 297 225 309 211 315 199 318 188 319 161 323 157 330 156 330 0 320 1 312 5 294 19 288 22 262 24 261 25 251 25 250 26 239 26 238 27 215 27 214 26 140 25 139 24 103 24 102 23 79 24 78 25 58 25 57 24 37 23 29 21 5 1 -3 -3Z"/>
<path fill="#070707" d="M-12 -1 -12 154 -10 155 4 155 9 158 10 161 10 184 14 199 23 214 32 223 39 228 47 232 62 236 262 236 277 232 285 228 292 223 301 214 306 207 310 199 314 184 314 162 315 158 320 155 330 155 330 2 320 4 316 6 296 21 290 24 261 26 260 27 233 29 232 30 190 30 189 29 152 29 151 28 115 28 114 27 69 28 68 27 30 24 23 20 1 2 -7 -1Z"/>
<path fill="#0a0a0a" d="M-12 1 -12 153 9 154 12 156 13 158 13 180 17 197 25 211 39 224 49 229 66 233 258 233 259 232 269 231 285 224 302 207 307 197 310 187 311 159 312 157 316 154 330 153 330 4 329 5 324 5 315 9 293 25 256 28 255 29 230 31 229 32 182 32 181 31 144 31 143 30 107 30 106 29 73 30 72 29 44 27 43 26 32 26 25 24 2 5 -7 1Z"/>
<path fill="#0d0d0d" d="M-12 2 -12 152 7 152 12 153 15 155 16 157 16 181 20 197 27 209 37 219 49 226 65 230 259 230 275 226 287 219 297 209 301 203 307 187 309 157 313 153 317 152 330 152 330 6 323 7 315 11 297 25 291 27 259 29 258 30 250 30 249 31 225 33 224 34 183 34 182 33 145 33 144 32 108 32 107 31 80 32 79 31 69 31 68 30 51 29 50 28 29 27 22 24 2 7 -6 3Z"/>
<path fill="#101010" d="M-12 4 -12 150 -11 151 11 151 15 152 18 155 19 184 22 195 26 203 32 211 40 218 51 224 62 227 73 227 74 228 250 228 251 227 267 226 284 218 292 211 298 203 304 189 305 173 306 172 306 158 311 152 314 151 330 151 330 8 325 8 316 12 298 26 293 28 261 30 260 31 252 31 251 32 244 32 243 33 236 33 227 35 218 35 217 36 190 36 189 35 152 35 151 34 115 34 114 33 76 33 75 32 67 32 58 30 27 28 21 25 -1 7 -8 4Z"/>
<path fill="#121212" d="M-12 5 -12 149 -8 150 14 150 18 151 21 155 21 181 25 196 31 206 40 215 50 221 65 225 259 225 260 224 265 224 274 221 284 215 293 206 297 200 302 187 303 161 306 155 312 150 330 149 330 9 323 10 317 13 299 27 294 29 272 30 271 31 245 33 244 34 237 34 236 35 229 35 220 37 178 37 177 36 140 36 139 35 103 35 102 34 84 35 83 34 74 34 73 33 57 32 56 31 26 29 20 26 -2 8Z"/>
<path fill="#151515" d="M-12 7 -12 148 17 149 20 150 23 153 23 180 27 195 33 205 41 213 51 219 66 223 258 223 259 222 264 222 273 219 283 213 291 205 295 199 300 186 301 160 304 155 311 149 330 148 330 10 318 14 300 28 295 30 264 32 263 33 255 33 254 34 222 37 221 38 212 38 211 39 192 39 191 38 82 36 81 35 73 35 72 34 56 33 55 32 24 30 -1 10 -8 7Z"/>
<path fill="#181818" d="M-12 8 -12 147 19 148 22 149 25 152 25 179 28 192 34 203 43 212 54 218 67 221 257 221 267 219 281 212 292 200 298 185 299 160 303 154 310 148 330 147 330 12 326 12 317 16 302 28 296 31 265 33 264 34 256 34 255 35 214 39 213 40 185 40 184 39 80 37 79 36 55 34 54 33 24 31 17 27 -2 11 -9 8Z"/>
<path fill="#1b1b1b" d="M-12 9 -12 146 21 147 26 150 27 152 27 178 31 194 36 202 44 210 52 215 68 219 256 219 257 218 263 218 272 215 280 210 288 202 292 196 296 185 296 179 297 178 297 160 303 152 309 147 330 146 330 13 327 13 318 17 300 31 297 32 266 34 265 35 257 35 256 36 224 39 215 41 180 41 179 40 79 38 78 37 71 37 62 35 23 32 19 30 -3 12Z"/>
<path fill="#1e1e1e" d="M-12 10 -12 145 22 146 25 147 29 152 29 178 32 191 37 200 46 209 55 214 68 217 256 217 266 215 278 209 289 197 294 184 295 161 304 149 308 146 313 145 330 145 330 14 322 16 298 33 267 35 266 36 258 36 257 37 225 40 216 42 165 42 164 41 128 41 127 40 87 40 86 39 78 39 77 38 70 38 61 36 22 33 18 31 -2 14Z"/>
<path fill="#212121" d="M-12 12 -12 144 11 144 12 145 24 145 26 146 31 152 31 178 35 193 44 205 51 210 58 213 68 215 256 215 266 213 273 210 280 205 288 195 291 188 293 178 293 161 296 156 307 145 311 144 330 144 330 15 321 18 299 34 259 37 258 38 226 41 217 43 208 43 207 44 194 44 193 43 85 41 84 40 51 37 50 36 27 35 19 33 0 17 -6 13Z"/>
<path fill="#232323" d="M-12 13 -12 143 14 143 15 144 25 144 27 145 33 153 33 178 36 190 42 200 50 207 56 210 68 213 256 213 257 212 262 212 274 207 285 196 290 184 291 161 306 144 309 143 330 143 330 17 327 17 320 20 300 35 260 38 259 39 243 40 242 41 210 44 209 45 190 45 189 44 84 42 83 41 50 38 49 37 25 36 18 34 -2 17 -7 14Z"/>
<path fill="#262626" d="M-12 14 -12 141 -11 142 16 142 17 143 25 143 29 145 35 153 35 178 39 192 48 203 59 209 68 211 256 211 270 207 276 203 285 192 289 178 289 161 304 144 308 142 330 142 330 18 321 21 303 35 296 37 261 39 260 40 244 41 243 42 211 45 210 46 187 46 186 45 83 43 82 42 49 39 48 38 24 37 19 36 0 20 -6 16Z"/>
<path fill="#292929" d="M-12 16 -12 140 -9 141 18 141 28 143 37 153 37 176 40 189 45 197 57 206 70 209 254 209 255 208 260 208 269 205 279 197 284 189 286 182 287 161 305 142 307 141 328 141 330 140 330 19 322 22 302 37 297 38 262 40 261 41 245 42 244 43 212 46 211 47 185 47 184 46 82 44 81 43 48 40 47 39 22 38 15 35 -5 18 -9 16Z"/>
<path fill="#2c2c2c" d="M-12 17 -12 139 -7 140 20 140 29 142 39 153 40 180 42 187 45 193 53 201 59 204 66 206 258 206 271 201 279 193 284 180 285 161 304 141 306 140 326 140 330 139 330 21 323 23 306 36 299 39 263 41 262 42 254 42 253 43 213 47 212 48 182 48 181 47 82 45 81 44 47 41 46 40 21 39 13 35 -6 19Z"/>
<path fill="#2f2f2f" d="M-12 19 -12 138 -7 138 -6 139 21 139 22 140 28 140 39 150 42 155 42 175 44 185 47 191 55 199 61 202 71 204 253 204 254 203 259 203 269 199 277 191 281 181 282 162 303 140 305 139 330 138 330 22 324 24 307 37 300 40 285 40 284 41 264 42 263 43 255 43 254 44 222 47 213 49 179 49 178 48 81 46 80 45 46 42 45 41 20 40 12 36 -6 21Z"/>
<path fill="#323232" d="M-12 20 -12 137 21 138 30 140 45 156 46 179 50 189 54 194 63 199 67 200 257 200 267 196 272 192 277 183 278 167 280 161 292 151 303 139 305 138 330 137 330 24 322 27 308 38 300 41 264 43 263 44 255 44 254 45 214 49 213 50 175 50 174 49 97 48 96 47 92 48 91 47 81 47 80 46 46 43 45 42 19 41 12 38 -4 24Z"/>
<path fill="#343434" d="M-12 22 -12 136 -7 136 -6 137 21 137 31 139 48 156 50 160 50 176 54 187 59 192 70 196 254 196 265 192 270 187 273 180 274 167 276 163 283 156 288 153 302 138 304 137 330 136 330 26 325 27 308 40 301 42 286 42 285 43 264 44 263 45 255 45 254 46 214 50 213 51 160 51 159 50 90 49 89 48 81 48 80 47 46 44 45 43 19 42 11 39 -4 26Z"/>
<path fill="#373737" d="M-12 24 -12 135 -7 136 20 136 21 137 31 138 54 160 56 165 56 176 59 183 63 187 70 190 102 190 103 191 254 190 261 187 265 183 268 176 268 170 270 166 276 160 286 153 301 137 330 135 330 27 325 29 307 42 273 44 272 45 255 46 254 47 247 47 246 48 239 48 230 50 194 53 193 52 90 50 89 49 81 49 80 48 46 45 45 44 19 43 11 41 -7 26Z"/>
<path fill="#3a3a3a" d="M-12 26 -12 134 -8 135 19 135 20 136 32 137 59 162 62 168 62 173 64 178 68 182 73 184 87 184 102 187 197 187 198 186 228 186 229 185 251 184 256 182 260 178 264 169 275 159 288 150 295 143 299 137 304 135 327 135 330 134 330 30 324 32 314 40 308 43 273 45 272 46 254 47 253 48 213 52 212 53 190 54 189 53 91 51 90 50 82 50 81 49 57 47 56 46 12 43Z"/>
<path fill="#3d3d3d" d="M-12 29 -12 133 -10 134 17 134 18 135 32 136 61 161 72 175 93 183 102 185 195 185 196 184 223 184 224 183 237 182 253 176 265 165 285 151 300 135 304 134 329 134 330 133 330 32 327 33 315 42 309 44 283 45 282 46 253 48 252 49 212 53 211 54 187 55 186 54 148 54 147 53 92 52 91 51 83 51 82 50 48 47 47 46 11 44 4 41 -5 33Z"/>
<path fill="#404040" d="M-12 33 -12 133 14 133 15 134 33 135 75 172 92 181 106 184 210 183 211 182 234 181 246 177 253 173 289 146 298 135 305 133 330 133 330 36 318 43 310 45 281 46 280 47 252 49 251 50 211 54 210 55 183 56 182 55 145 55 144 54 92 53 91 52 83 52 82 51 75 51 74 50 67 50 58 48 49 48 48 47 10 45 1 42 -6 36Z"/>
<path fill="#434343" d="M-12 39 -12 132 11 132 12 133 33 134 78 172 97 181 108 182 109 183 146 183 147 182 205 182 206 181 232 180 242 177 256 169 285 148 292 141 295 136 299 133 330 132 330 41 326 43 311 46 280 47 279 48 260 49 259 50 243 51 242 52 210 55 209 56 180 57 179 56 142 56 141 55 93 54 92 53 84 53 83 52 76 52 75 51 68 51 59 49 50 49 49 48 40 48 39 47 9 46 8 45 -2 44Z"/>
<path fill="#454545" d="M-12 44 -12 131 9 131 10 132 33 133 37 135 48 146 79 171 98 180 112 181 113 182 141 182 142 181 199 181 200 180 231 179 241 176 261 164 283 148 299 132 330 131 330 45 313 46 312 47 279 48 278 49 259 50 258 51 218 55 217 56 209 56 208 57 176 58 175 57 105 56 104 55 93 55 92 54 51 50 50 49 27 48 26 47 8 47 7 46 -2 46Z"/>
<path fill="#484848" d="M-12 46 -12 130 34 132 77 168 90 176 103 180 167 180 168 179 218 179 219 178 230 178 243 174 259 164 285 145 293 135 298 131 330 130 330 46 315 47 314 48 278 49 277 50 268 50 267 51 259 51 258 52 250 52 249 53 242 53 241 54 234 54 233 55 226 55 217 57 208 57 207 58 196 58 195 59 104 57 103 56 85 55 84 54 52 51 51 50 28 49 27 48 6 48 5 47Z"/>
<path fill="#4b4b4b" d="M-12 48 -12 129 27 130 37 132 49 144 85 172 99 178 104 179 159 179 160 178 216 178 217 177 234 176 248 170 282 146 290 138 295 131 298 130 313 130 314 129 330 129 330 48 278 50 277 51 268 51 267 52 259 52 258 53 250 53 249 54 208 58 207 59 196 59 195 60 119 59 118 58 103 58 102 57 85 56 84 55 52 52 51 51 42 51 41 50Z"/>
<path fill="#4e4e4e" d="M-12 49 -12 128 35 130 78 166 87 172 100 177 105 178 157 178 158 177 214 177 215 176 233 175 244 171 275 150 285 142 290 135 297 129 330 128 330 49 278 51 277 52 268 52 267 53 259 53 258 54 242 55 241 56 234 56 233 57 226 57 217 59 208 59 207 60 197 60 196 61 117 60 116 59 102 59 101 58 93 58 92 57 52 53 51 52 41 52 40 51Z"/>
<path fill="#515151" d="M-12 50 -12 127 8 127 9 128 36 129 50 142 84 169 100 176 105 177 155 177 156 176 213 176 214 175 233 174 247 168 276 148 296 128 330 127 330 50 279 52 278 53 259 54 258 55 218 59 217 60 209 60 208 61 197 61 196 62 115 61 114 60 102 60 101 59 93 59 92 58 51 54 50 53 41 53 40 52Z"/>
<path fill="#545454" d="M-12 51 -12 126 10 126 11 127 36 128 40 130 47 138 83 167 100 175 105 175 106 176 154 176 155 175 212 175 213 174 233 173 245 168 270 151 283 141 291 130 295 127 330 126 330 51 280 53 279 54 269 54 268 55 251 56 250 57 243 57 242 58 235 58 234 59 227 59 218 61 209 61 208 62 198 62 197 63 114 62 113 61 101 61 100 60 84 59 83 58 51 55 50 54 40 54 39 53Z"/>
<path fill="#565656" d="M-12 52 -12 125 11 125 12 126 37 127 52 141 82 165 92 171 106 175 154 175 155 174 212 174 213 173 232 172 243 168 279 143 287 135 289 131 295 126 330 125 330 52 280 54 279 55 269 55 268 56 260 56 259 57 227 60 218 62 210 62 209 63 198 63 197 64 114 63 113 62 101 62 100 61 92 61 91 60 50 56 49 55 40 55 39 54Z"/>
<path fill="#595959" d="M-12 53 -12 124 10 124 11 125 37 126 41 128 50 138 85 166 92 170 106 174 154 174 155 173 212 173 213 172 232 171 246 165 268 150 281 140 289 129 294 125 330 124 330 53 280 55 279 56 269 56 268 57 260 57 259 58 243 59 242 60 235 60 234 61 227 61 218 63 209 63 208 64 198 64 197 65 115 64 114 63 101 63 100 62 92 62 91 61 51 57 50 56 40 56 39 55Z"/>
<path fill="#5c5c5c" d="M-12 54 -12 123 27 124 28 125 40 126 55 141 87 166 101 172 106 173 155 173 156 172 212 172 213 171 232 170 246 164 277 142 286 133 291 125 294 124 312 124 313 123 330 123 330 54 279 56 278 57 268 57 267 58 259 58 258 59 218 63 217 64 208 64 207 65 197 65 196 66 116 65 115 64 102 64 101 63 93 63 92 62 51 58 50 57 41 57 40 56Z"/>
<path fill="#5f5f5f" d="M-12 55 -12 122 25 123 26 124 40 125 53 138 84 163 95 169 106 172 213 171 214 170 232 169 244 164 273 144 284 134 287 128 291 124 330 122 330 55 277 57 276 58 267 58 266 59 258 59 257 60 241 61 240 62 233 62 232 63 225 63 216 65 207 65 206 66 194 66 193 67 119 66 118 65 94 64 93 63 53 59 52 58 43 58 42 57Z"/>
<path fill="#626262" d="M-12 55 -12 121 21 122 22 123 40 124 52 136 83 161 95 168 105 171 158 171 159 170 215 170 216 169 228 169 244 163 270 145 281 136 288 125 291 123 330 121 330 56 304 56 303 57 274 58 273 59 256 60 255 61 214 65 213 66 204 66 203 67 191 67 190 68 157 68 156 67 106 66 105 65 96 65 95 64 55 60 54 59 45 59 44 58 16 57 15 56 -11 56Z"/>
<path fill="#656565" d="M-12 56 -12 120 -11 121 16 121 17 122 40 123 57 139 86 162 95 167 105 170 161 170 162 169 216 169 217 168 228 168 242 163 275 140 283 132 286 126 291 122 330 121 330 56 283 58 282 59 262 60 261 61 221 65 220 66 212 66 211 67 182 68 181 69 179 68 109 67 108 66 90 65 89 64 48 60 47 59Z"/>
<path fill="#676767" d="M-12 57 -12 120 28 121 29 122 42 123 56 137 86 161 95 166 105 169 135 170 136 169 193 169 194 168 228 167 242 162 271 142 282 132 285 126 289 122 292 121 310 121 311 120 330 120 330 57 279 59 278 60 269 60 268 61 251 62 250 63 243 63 242 64 235 64 234 65 227 65 218 67 209 67 208 68 198 68 197 69 112 68 111 67 101 67 100 66 84 65 83 64 51 61 50 60 40 60 39 59Z"/>
<path fill="#6a6a6a" d="M-12 58 -12 119 23 120 24 121 42 122 54 134 85 159 97 166 104 168 141 169 142 168 199 168 200 167 229 166 240 162 268 143 280 133 285 124 289 121 330 119 330 58 307 58 306 59 276 60 275 61 266 61 265 62 257 62 256 63 224 66 215 68 206 68 205 69 193 69 192 70 116 69 115 68 104 68 103 67 95 67 94 66 54 62 53 61 44 61 43 60 12 59 11 58Z"/>
<path fill="#6d6d6d" d="M-12 58 -12 118 -10 119 32 120 33 121 44 122 52 131 81 155 91 162 104 167 144 168 145 167 202 167 203 166 229 165 238 162 245 158 272 139 281 130 284 124 287 121 301 120 302 119 329 119 330 118 330 58 283 60 282 61 254 63 253 64 246 64 245 65 238 65 237 66 230 66 221 68 212 68 211 69 202 69 201 70 187 70 186 71 120 70 119 69 98 68 97 67 65 64 56 62 47 62 46 61Z"/>
<path fill="#707070" d="M-12 59 -12 118 28 119 29 120 44 121 58 135 80 153 93 162 104 166 110 166 111 167 146 167 147 166 204 166 205 165 229 164 238 161 245 157 273 137 280 130 283 124 287 120 310 119 311 118 330 118 330 59 279 61 278 62 269 62 268 63 260 63 259 64 251 64 250 65 243 65 242 66 235 66 234 67 227 67 218 69 209 69 208 70 197 70 196 71 125 71 124 70 101 69 100 68 84 67 83 66 51 63 50 62 40 62 39 61Z"/>
<path fill="#737373" d="M-12 60 -12 117 23 118 24 119 43 120 47 122 57 133 84 155 93 161 104 165 109 165 110 166 148 166 149 165 206 165 207 164 229 163 238 160 269 139 278 131 283 122 287 119 330 117 330 60 306 60 305 61 275 62 274 63 257 64 256 65 215 69 214 70 205 70 204 71 192 71 191 72 131 72 130 71 115 71 114 70 95 69 94 68 54 64 53 63 44 63 43 62 13 61 12 60Z"/>
<path fill="#767676" d="M-12 60 -12 116 -10 117 32 118 33 119 45 120 55 130 83 153 93 160 103 164 108 164 109 165 149 165 150 164 207 164 208 163 230 162 243 156 270 137 279 128 281 123 285 119 301 118 302 117 330 117 330 60 283 62 282 63 254 65 253 66 246 66 245 67 238 67 229 69 201 71 200 72 186 72 185 73 119 72 118 71 98 70 97 69 57 65 56 64 48 64 47 63Z"/>
<path fill="#787878" d="M-12 61 -12 116 28 117 29 118 45 119 61 134 90 157 100 162 109 164 208 163 209 162 230 161 243 155 271 135 278 128 281 121 285 118 330 116 330 61 279 63 278 64 251 66 250 67 209 71 208 72 175 73 174 74 123 73 122 72 101 71 100 70 84 69 83 68 51 65 50 64 40 64 39 63Z"/>
<path fill="#7b7b7b" d="M-12 62 -12 115 24 116 25 117 36 117 37 118 47 119 59 131 86 153 100 161 108 163 209 162 210 161 230 160 241 155 267 137 276 129 280 121 283 118 295 117 296 116 330 115 330 62 307 62 306 63 276 64 275 65 266 65 265 66 257 66 256 67 249 67 248 68 241 68 240 69 233 69 224 71 193 73 192 74 127 74 126 73 104 72 103 71 95 71 94 70 44 65 43 64Z"/>
<path fill="#7e7e7e" d="M-12 62 -12 114 -7 115 20 115 21 116 34 116 35 117 47 118 57 128 89 154 100 160 108 162 210 161 211 160 230 159 241 154 268 135 276 127 280 119 283 117 299 116 300 115 327 115 330 114 330 62 273 65 272 66 255 67 254 68 247 68 246 69 239 69 230 71 203 73 202 74 189 74 188 75 131 75 130 74 97 72 96 71 80 70 79 69 72 69 71 68 64 68 55 66 46 66 45 65 18 64 17 63 -9 63Z"/>
<path fill="#818181" d="M-12 63 -12 113 -9 114 17 114 18 115 32 115 33 116 48 117 62 131 88 152 100 159 108 161 225 159 239 154 265 136 274 128 278 120 283 116 303 115 304 114 330 114 330 63 282 65 281 66 262 67 261 68 245 69 244 70 237 70 236 71 229 71 220 73 201 74 200 75 185 75 184 76 118 75 117 74 98 73 97 72 65 69 56 67 47 67 46 66Z"/>
<path fill="#848484" d="M-12 64 -12 112 -9 113 18 113 19 114 32 114 33 115 48 116 60 128 91 153 98 157 109 160 210 159 211 158 229 157 242 151 266 134 275 125 277 119 282 115 306 114 307 113 330 113 330 64 281 66 280 67 261 68 260 69 253 69 252 70 245 70 244 71 237 71 228 73 200 75 199 76 184 76 183 77 119 76 118 75 98 74 97 73 65 70 56 68 47 68 46 67Z"/>
<path fill="#878787" d="M330 65 282 67 281 68 262 69 261 70 254 70 253 71 246 71 245 72 238 72 229 74 202 76 201 77 187 77 186 78 132 78 131 77 116 77 115 76 96 75 95 74 54 70 53 69 44 69 43 68 12 67 11 66 -12 66 -12 111 23 112 24 113 36 113 37 114 50 115 64 130 90 151 101 157 109 159 224 157 232 155 240 151 263 135 273 126 277 117 281 114 305 113 306 112 330 112Z"/>
<path fill="#898989" d="M330 66 274 69 273 70 265 70 264 71 257 71 256 72 249 72 248 73 241 73 240 74 233 74 224 76 216 76 215 77 207 77 206 78 194 78 193 79 123 79 122 78 90 76 89 75 82 75 73 73 46 71 45 70 34 70 33 69 -12 68 -12 109 21 110 22 111 34 111 35 112 49 113 55 118 61 126 84 145 95 153 105 157 110 158 150 158 151 157 223 156 236 152 265 132 273 124 276 116 279 113 298 112 299 111 327 111 330 110Z"/>
<path fill="#8c8c8c" d="M330 68 281 70 280 71 262 72 261 73 246 74 238 76 205 79 204 80 192 80 191 81 111 80 110 79 88 78 87 77 79 77 78 76 70 76 69 75 61 75 51 73 40 73 39 72 -9 71 -12 70 -12 106 30 108 31 109 40 109 41 110 51 111 58 121 65 128 91 149 105 156 110 156 111 157 148 157 149 156 222 155 231 153 239 149 262 133 270 126 273 121 275 114 279 111 330 109Z"/>
<path fill="#8f8f8f" d="M330 70 280 72 279 73 262 74 261 75 254 75 253 76 216 80 215 81 192 82 191 83 116 82 115 81 99 81 98 80 80 80 79 79 50 77 49 76 37 76 36 75 -12 74 -12 103 22 104 23 105 33 105 34 106 52 108 58 119 68 129 93 149 106 155 112 155 113 156 145 156 146 155 221 154 235 150 264 130 270 124 273 117 273 113 276 110 290 109 291 108 330 107Z"/>
<path fill="#929292" d="M330 72 284 74 283 75 274 75 273 76 266 76 265 77 258 77 257 78 221 82 220 83 210 83 209 84 146 84 145 83 107 83 106 82 88 82 80 84 51 84 50 83 24 83 23 84 5 84 4 85 -12 84 -12 92 -10 93 3 93 4 94 20 95 21 96 33 97 53 101 55 103 57 114 63 123 91 146 97 150 107 154 140 155 141 154 218 153 219 152 226 152 236 148 262 130 269 123 271 119 272 110 276 107 330 105Z"/>
<path fill="#959595" d="M330 75 294 77 293 78 270 80 246 85 228 85 227 86 179 86 178 85 145 85 144 84 88 84 81 86 68 93 60 101 58 106 58 112 62 120 76 133 96 148 109 153 160 153 161 152 214 152 215 151 224 151 237 146 260 130 269 120 270 117 269 107 272 103 330 102Z"/>
<path fill="#989898" d="M60 106 60 114 63 119 81 136 97 147 110 152 223 150 236 145 259 129 267 121 268 118 268 110 264 103 258 97 248 91 236 88 195 88 194 87 150 86 149 85 119 85 118 86 115 85 91 85 81 88 68 96 62 102Z"/>
<path fill="#9a9a9a" d="M61 109 64 118 81 135 96 145 104 149 113 151 204 150 205 149 226 148 237 143 257 129 265 121 267 116 266 110 260 102 249 94 241 91 221 90 220 89 191 89 190 88 160 87 159 86 121 86 120 87 94 86 93 87 88 87 77 92 64 102Z"/>
<path fill="#9d9d9d" d="M63 108 63 112 66 118 81 134 105 148 117 149 118 150 196 149 197 148 224 147 236 142 252 131 263 121 265 117 265 112 263 108 255 100 249 96 239 92 191 90 190 89 166 88 165 87 90 88 84 90 72 97 67 101Z"/>
<path fill="#a0a0a0" d="M65 107 65 113 67 117 82 134 104 146 111 148 156 148 157 147 210 147 211 146 222 146 229 144 244 135 255 127 263 118 263 112 261 108 251 99 241 94 224 93 223 92 203 92 202 91 192 91 191 90 171 89 170 88 93 89 85 91 73 98Z"/>
<path fill="#a3a3a3" d="M67 107 67 113 76 127 82 133 98 142 108 146 113 146 114 147 219 145 230 142 237 138 255 125 261 118 261 112 259 108 248 99 239 95 202 93 201 92 193 92 184 90 159 89 158 88 131 88 130 89 90 91 77 97Z"/>
<path fill="#a6a6a6" d="M69 108 69 113 77 127 83 133 101 142 110 145 121 145 122 146 222 143 234 138 255 123 259 117 259 112 255 106 247 100 237 96 210 95 194 92 178 91 177 90 165 90 164 89 126 89 125 90 92 92 77 99 71 104Z"/>
<path fill="#a9a9a9" d="M71 108 71 113 77 126 83 132 96 139 113 144 173 144 174 143 218 142 227 140 233 137 250 125 257 117 256 110 250 104 238 98 216 97 195 93 169 91 168 90 122 90 121 91 95 93 83 97 77 101Z"/>
<path fill="#ababab" d="M73 110 75 120 78 126 84 132 96 138 116 143 171 143 172 142 220 140 233 135 247 125 254 118 254 111 247 104 239 100 212 98 196 94 172 92 171 91 157 91 156 90 119 91 118 92 97 94 89 96 83 99 74 107Z"/>
<path fill="#aeaeae" d="M75 111 75 116 78 124 87 133 102 139 111 141 118 141 119 142 170 142 171 141 220 138 231 134 244 125 251 118 252 115 251 111 246 106 239 102 215 100 202 96 184 94 183 93 175 93 174 92 162 92 161 91 131 91 130 92 117 92 116 93 98 95 83 101 78 105Z"/>
<path fill="#b1b1b1" d="M77 111 77 120 82 128 86 131 99 137 112 140 120 140 121 141 169 141 170 140 180 140 181 139 190 139 200 137 220 136 230 132 239 126 248 117 248 112 246 109 242 106 234 103 217 102 197 96 176 94 175 93 163 93 162 92 130 92 129 93 117 93 116 94 109 94 99 96 90 99 83 103Z"/>
<path fill="#b4b4b4" d="M78 113 79 122 86 130 91 133 103 137 113 138 114 139 123 139 124 140 167 140 168 139 178 139 179 138 195 137 209 134 216 134 224 132 230 129 237 124 244 116 243 111 234 106 221 105 205 99 196 97 175 95 174 94 163 94 162 93 130 93 129 94 117 94 116 95 100 97 87 102 81 107Z"/>
<path fill="#b7b7b7" d="M80 121 90 131 109 137 127 138 128 139 163 139 164 138 175 138 176 137 191 136 219 130 231 124 237 118 238 114 234 110 222 108 210 102 195 98 173 96 172 95 160 95 159 94 133 94 132 95 111 96 90 102 81 110 80 112Z"/>
<path fill="#bababa" d="M81 115 83 123 91 130 102 134 112 136 121 136 122 137 170 137 171 136 194 134 213 129 223 123 226 119 226 116 218 108 211 104 192 99 186 99 178 97 168 97 167 96 125 96 124 97 108 98 90 104 83 110Z"/>
<path fill="#bcbcbc" d="M83 118 86 124 93 129 111 134 129 135 130 136 162 136 163 135 174 135 175 134 195 132 204 130 214 126 218 123 220 119 219 112 209 105 188 100 172 99 171 98 159 98 158 97 134 97 133 98 120 98 119 99 107 100 96 103 90 106 84 112Z"/>
<path fill="#bfbfbf" d="M86 113 86 120 92 126 105 131 116 132 117 133 127 133 128 134 164 134 165 133 175 133 176 132 196 130 207 127 213 124 217 119 217 114 215 111 206 106 188 102 174 101 173 100 161 100 160 99 132 99 131 100 119 100 118 101 106 102 92 107Z"/>
<path fill="#c2c2c2" d="M88 115 89 120 96 126 110 130 126 131 127 132 165 132 166 131 190 129 206 125 214 119 213 113 205 108 182 103 162 102 161 101 131 101 130 102 112 103 99 106 93 109Z"/>
<path fill="#c5c5c5" d="M91 116 91 118 94 122 102 126 117 129 126 129 127 130 165 130 166 129 190 127 202 124 208 121 211 117 208 112 198 108 182 106 181 105 174 105 173 104 162 104 161 103 131 103 130 104 112 105 96 110 93 112Z"/>
<path fill="#c8c8c8" d="M95 115 96 120 101 123 111 126 127 127 128 128 164 128 165 127 182 126 197 123 206 118 205 114 196 110 180 107 173 107 172 106 161 106 160 105 132 105 131 106 113 107 104 109 98 112Z"/>
<path fill="#cbcbcb" d="M100 115 100 118 106 122 120 125 130 125 131 126 172 125 173 124 190 122 199 118 199 115 193 112 177 109 171 109 170 108 159 108 158 107 122 108 121 109 110 110 104 112Z"/>
<path fill="#cdcdcd" d="M107 116 109 119 114 121 134 123 135 124 166 123 167 122 179 121 188 118 187 115 182 113 172 111 164 111 163 110 129 110 128 111 115 112Z"/>
<path fill="#d0d0d0" d="M122 116 123 118 136 122 141 122 148 120 159 120 170 117 168 115 158 114 157 113 132 113Z"/>
<path fill="#d3d3d3" d="M133 117 136 120 140 120 144 118 143 116 137 115Z"/>
</g></g>
<text x="771.8" y="46.3" font-size="36.5" fill="#fff">0.22 s</text>
<g clip-path="url(#c3)"><g transform="translate(1095.5 1)" filter="url(#cm)">
<rect x="-12" y="-12" width="343" height="268" fill="#000"/>
<path fill="#040404" d="M-12 -4 -12 160 4 176 8 196 15 211 21 219 35 231 47 237 65 241 259 241 274 238 289 231 297 225 309 211 315 199 319 183 325 177 330 174 330 -1 321 0 313 4 295 18 288 21 272 22 271 23 251 25 250 26 238 27 224 30 196 30 195 29 133 29 132 28 93 28 89 29 88 28 78 28 77 27 71 27 70 26 64 26 49 23 33 22 25 18 5 1 -3 -3Z"/>
<path fill="#070707" d="M-12 -1 -12 154 8 174 10 178 10 184 14 199 23 214 32 223 47 232 62 236 262 236 277 232 285 228 292 223 301 214 310 199 314 182 320 176 330 169 330 2 325 2 317 5 292 23 268 25 267 26 248 28 223 33 210 34 209 33 88 32 87 31 74 30 53 26 29 24 1 2 -7 -1Z"/>
<path fill="#0a0a0a" d="M-12 1 -12 151 -7 153 12 174 14 181 14 187 17 197 25 211 35 221 49 229 66 233 258 233 259 232 265 232 275 229 285 224 299 211 307 197 310 187 310 183 312 179 326 167 330 165 330 4 325 4 316 8 293 25 255 29 218 36 200 36 199 35 86 34 85 33 53 29 52 28 28 26 2 5 -7 1Z"/>
<path fill="#0d0d0d" d="M-12 2 -12 149 -8 149 -5 151 2 160 14 172 16 176 17 187 20 197 27 209 37 219 49 226 65 230 259 230 260 229 265 229 281 223 287 219 297 209 304 197 308 180 324 165 330 161 330 5 324 6 316 10 298 24 292 27 254 31 217 38 201 38 200 37 86 36 85 35 54 31 53 30 29 28 22 24 2 7 -6 3Z"/>
<path fill="#101010" d="M-12 4 -12 147 -5 148 17 172 19 177 20 189 26 203 35 214 43 220 51 224 62 227 73 227 74 228 250 228 251 227 267 226 281 220 292 211 298 203 302 195 306 178 330 157 330 7 326 7 317 11 298 26 291 29 273 30 272 31 252 33 221 39 207 40 206 39 89 38 88 37 82 37 81 36 56 33 55 32 30 30 22 26 -1 7 -8 4Z"/>
<path fill="#121212" d="M-12 5 -12 145 -3 147 20 172 22 187 27 200 31 206 40 215 50 221 65 225 259 225 260 224 265 224 278 219 284 215 293 206 299 196 304 177 314 169 326 156 330 154 330 8 318 12 299 27 293 30 256 34 219 41 194 41 193 40 85 39 84 38 52 34 51 33 27 31 4 12 -4 7Z"/>
<path fill="#151515" d="M-12 7 -12 144 -2 145 22 171 24 186 29 199 33 205 41 213 51 219 66 223 258 223 259 222 264 222 277 217 283 213 291 205 297 195 302 176 311 169 330 150 330 10 326 10 319 13 297 30 292 32 266 34 265 35 259 35 222 42 206 43 205 42 88 41 87 40 56 36 55 35 29 33 24 31 -1 10 -8 7Z"/>
<path fill="#181818" d="M-12 8 -12 142 0 144 24 170 27 189 32 200 43 212 54 218 67 221 257 221 267 219 281 212 290 203 296 192 298 185 298 180 300 175 308 169 325 150 330 147 330 11 327 11 320 14 299 30 293 33 255 37 218 44 198 44 197 43 85 42 84 41 53 37 52 36 27 34 17 27 1 13 -6 9Z"/>
<path fill="#1b1b1b" d="M-12 9 -12 141 0 142 8 149 12 155 26 170 28 185 32 196 36 202 44 210 52 215 68 219 256 219 257 218 263 218 274 214 280 210 288 202 293 194 296 185 297 176 317 157 327 145 330 144 330 12 319 16 295 34 264 37 263 38 251 39 220 45 189 45 188 44 126 44 125 43 90 44 89 43 83 43 57 38 31 36 24 34 -3 12Z"/>
<path fill="#1e1e1e" d="M-12 10 -12 140 2 141 8 146 17 158 28 169 31 188 37 200 46 209 55 214 68 217 256 217 266 215 278 209 287 200 292 191 296 174 312 160 326 143 330 142 330 13 323 15 296 35 259 39 258 40 253 40 222 46 216 46 215 47 207 47 206 46 88 45 87 44 56 40 55 39 29 37 23 35 -2 14Z"/>
<path fill="#212121" d="M-12 12 -12 139 4 140 11 147 21 160 30 169 33 188 38 198 44 205 51 210 58 213 68 215 256 215 266 213 273 210 283 202 288 195 291 188 293 175 313 156 324 142 330 140 330 15 322 17 300 34 293 37 285 37 284 38 254 41 217 48 202 48 201 47 87 46 86 45 80 45 79 44 54 41 53 40 27 38 21 35 0 17 -6 13Z"/>
<path fill="#232323" d="M-12 13 -12 137 -11 138 2 138 7 140 19 155 31 167 33 171 34 184 39 196 46 204 56 210 68 213 256 213 257 212 262 212 274 207 282 200 288 190 292 173 300 167 310 157 318 146 324 140 330 139 330 16 321 19 302 34 294 38 286 38 285 39 255 42 218 49 199 49 198 48 85 47 84 46 53 42 52 41 26 39 19 35 -2 17 -7 14Z"/>
<path fill="#262626" d="M-12 14 -12 136 -9 137 4 137 7 138 13 144 22 156 34 168 37 187 43 198 48 203 59 209 68 211 256 211 265 209 276 203 281 198 287 187 289 174 307 158 321 140 324 138 329 138 330 137 330 17 322 20 300 37 295 39 256 43 219 50 196 50 195 49 85 48 84 47 78 47 77 46 52 43 51 42 25 40 17 35 0 20 -6 16Z"/>
<path fill="#292929" d="M-12 16 -12 135 6 136 11 139 25 157 36 168 39 186 45 197 57 206 70 209 254 209 264 207 269 205 279 197 284 189 287 174 303 160 321 138 330 136 330 19 327 19 323 21 301 38 296 40 257 44 220 51 193 51 192 50 130 50 129 49 96 49 91 50 90 49 84 49 83 48 51 44 50 43 24 41 20 39 -5 18 -9 16Z"/>
<path fill="#2c2c2c" d="M-12 17 -12 134 10 136 28 158 39 169 40 180 45 193 53 201 59 204 66 206 258 206 271 201 279 193 283 184 285 173 294 166 306 154 314 143 321 136 330 135 330 20 324 22 306 36 297 41 258 45 221 52 189 52 188 51 126 51 125 50 90 51 89 50 83 50 82 49 50 45 49 44 23 42 19 40 -6 19Z"/>
<path fill="#2f2f2f" d="M-12 19 -12 133 9 134 11 135 42 170 43 181 47 191 55 199 61 202 71 204 253 204 263 202 269 199 277 191 280 185 282 174 304 154 315 139 320 135 330 134 330 22 325 23 307 37 298 42 265 45 264 46 252 47 221 53 184 53 183 52 121 52 120 51 89 52 88 51 82 51 81 50 49 46 48 45 22 43 18 41 -3 23 -10 19Z"/>
<path fill="#323232" d="M-12 20 -12 132 10 133 14 135 27 152 44 169 46 173 47 183 52 192 63 199 67 200 257 200 267 196 272 192 277 183 279 174 284 169 292 164 301 155 317 135 323 133 330 133 330 23 323 26 300 43 266 46 265 47 259 47 222 54 149 54 148 53 88 53 87 52 81 52 55 47 21 44 17 42 -4 24Z"/>
<path fill="#343434" d="M-12 22 -12 131 0 131 1 132 12 132 14 133 30 153 48 170 50 173 51 180 54 187 59 192 70 196 254 196 265 192 270 187 274 176 280 170 292 162 317 133 330 132 330 25 326 26 308 40 301 44 267 47 266 48 260 48 223 55 209 56 208 55 87 54 86 53 55 49 54 48 20 45 12 40 -4 26Z"/>
<path fill="#373737" d="M-12 24 -12 130 4 130 5 131 15 132 33 154 56 175 58 182 63 187 70 190 254 190 261 187 266 182 268 177 271 174 283 167 292 160 314 133 320 131 330 131 330 27 323 30 308 42 302 45 268 48 267 49 248 51 224 56 207 57 206 56 86 55 85 54 54 50 53 49 19 46 13 43 -7 26Z"/>
<path fill="#3a3a3a" d="M-12 26 -12 129 15 130 42 161 59 173 65 180 73 184 89 184 90 185 251 184 258 181 263 176 286 163 298 151 314 131 330 130 330 29 325 31 310 43 304 46 269 49 268 50 255 51 254 52 249 52 224 57 218 57 217 58 206 58 205 57 85 56 84 55 53 51 52 50 17 47 14 46 -5 30Z"/>
<path fill="#3d3d3d" d="M-12 29 -12 127 -10 128 10 128 18 130 42 159 55 169 75 179 93 181 94 182 230 181 231 180 250 179 268 172 285 162 296 151 311 131 316 129 329 129 330 128 330 32 325 34 314 43 306 47 270 50 269 51 256 52 255 53 250 53 225 58 219 58 218 59 205 59 204 58 84 57 83 56 52 52 51 51 35 50 34 49 22 49 12 47 -5 33Z"/>
<path fill="#404040" d="M-12 33 -12 126 -8 127 12 127 19 129 36 150 49 163 56 168 76 177 92 180 103 180 104 181 209 180 210 179 243 178 262 173 280 164 293 152 311 129 330 127 330 36 326 37 316 45 308 48 271 51 270 52 257 53 256 54 251 54 226 59 220 59 219 60 204 60 203 59 84 58 83 57 51 53 50 52 34 51 33 50 20 50 19 49 9 48 -6 36Z"/>
<path fill="#434343" d="M-12 40 -12 125 19 127 23 130 38 150 50 162 57 167 78 176 94 179 195 179 196 178 225 178 226 177 246 176 261 172 279 163 290 153 310 128 330 126 330 42 320 47 312 49 289 50 288 51 264 53 263 54 258 54 227 60 220 60 219 61 204 61 203 60 83 59 82 58 50 54 49 53 42 53 41 52 9 50 1 48Z"/>
<path fill="#454545" d="M330 48 318 49 317 50 272 53 271 54 252 56 220 62 142 61 141 60 82 60 81 59 63 57 56 55 41 54 40 53 16 52 15 51 4 51 3 50 -12 49 -12 124 16 125 22 127 40 150 51 161 58 166 70 172 88 177 94 177 95 178 222 177 223 176 238 176 239 175 250 174 263 170 275 164 282 159 293 147 307 128 311 126 330 125Z"/>
<path fill="#484848" d="M330 50 273 54 272 55 259 56 258 57 253 57 228 62 221 62 220 63 206 63 205 62 143 62 142 61 81 61 80 60 56 57 55 56 40 55 39 54 -12 51 -12 123 17 124 23 126 42 150 53 161 68 170 89 176 95 176 96 177 221 176 222 175 238 175 239 174 249 173 265 168 281 158 291 147 307 126 309 125 330 124Z"/>
<path fill="#4b4b4b" d="M330 51 274 55 273 56 260 57 259 58 254 58 229 63 221 63 220 64 209 64 208 63 146 63 145 62 81 62 80 61 74 61 73 60 55 58 54 57 47 57 46 56 39 56 38 55 -12 52 -12 122 23 124 29 130 44 150 54 160 71 170 89 175 94 175 95 176 222 175 223 174 238 174 239 173 249 172 262 168 272 163 280 157 306 125 308 124 330 123Z"/>
<path fill="#4e4e4e" d="M330 52 329 53 295 54 294 55 275 56 274 57 261 58 230 64 119 63 118 62 80 63 73 61 38 57 37 56 4 55 3 54 -11 54 -12 53 -12 121 20 122 26 124 45 149 56 160 69 168 89 174 112 175 113 176 198 175 199 174 238 173 239 172 249 171 264 166 278 157 288 146 300 129 306 123 330 122Z"/>
<path fill="#515151" d="M330 54 285 56 284 57 276 57 275 58 255 60 230 65 126 64 125 63 79 64 66 61 37 58 36 57 -12 55 -12 120 21 121 27 123 46 148 58 160 72 168 89 173 106 174 107 175 145 175 146 174 204 174 205 173 226 173 227 172 244 171 261 166 276 157 287 145 303 123 313 121 330 121Z"/>
<path fill="#545454" d="M330 55 286 57 285 58 262 60 231 66 129 65 128 64 78 65 65 62 35 59 34 58 -12 56 -12 118 -11 119 9 119 10 120 27 121 47 147 60 160 72 167 88 172 103 173 104 174 148 174 149 173 207 173 208 172 229 172 230 171 245 170 261 165 274 157 286 144 302 122 310 120 330 120Z"/>
<path fill="#565656" d="M330 56 287 58 286 59 278 59 277 60 250 63 231 67 132 66 131 65 78 66 77 65 71 65 70 64 43 61 42 60 34 60 33 59 -12 57 -12 117 28 120 47 145 62 160 75 167 88 171 101 172 102 173 151 173 152 172 210 172 211 171 240 170 258 165 272 157 281 148 302 120 330 119Z"/>
<path fill="#595959" d="M330 57 278 60 277 61 263 62 232 68 135 67 134 66 77 67 70 65 42 62 41 61 33 61 32 60 -12 58 -12 116 -7 117 14 117 15 118 29 119 33 123 43 138 60 157 75 166 87 170 99 171 100 172 154 172 155 171 213 171 214 170 241 169 253 166 269 158 281 146 294 129 297 123 301 119 329 118 330 117Z"/>
<path fill="#5c5c5c" d="M330 58 287 60 286 61 263 63 231 69 139 68 138 67 76 68 75 67 63 66 56 64 49 64 48 63 41 63 40 62 -12 59 -12 115 17 116 18 117 30 118 34 122 37 128 47 141 63 158 75 165 87 169 97 170 98 171 158 171 159 170 235 169 253 165 264 160 271 155 285 139 296 122 300 118 329 117 330 116Z"/>
<path fill="#5f5f5f" d="M330 59 286 61 285 62 263 64 231 70 145 69 144 68 75 69 74 68 56 66 55 65 48 65 47 64 40 64 39 63 -10 61 -12 60 -12 114 19 115 20 116 31 117 35 121 40 130 51 144 65 158 75 164 91 169 96 169 97 170 164 170 165 169 236 168 253 164 268 156 285 137 298 118 308 117 309 116 330 116Z"/>
<path fill="#626262" d="M330 60 286 62 285 63 277 63 276 64 256 66 238 70 126 69 125 68 100 68 99 69 89 69 88 70 75 70 74 69 68 69 67 68 61 68 46 65 38 65 37 64 -12 62 -12 113 22 114 23 115 30 115 34 117 43 132 64 156 75 163 90 168 106 169 107 170 145 170 146 169 204 169 205 168 237 167 253 163 265 157 278 144 297 117 299 116 312 116 313 115 330 115Z"/>
<path fill="#656565" d="M330 61 284 63 283 64 262 66 237 71 131 70 130 69 96 69 86 71 74 71 73 70 45 67 44 66 36 66 35 65 -12 63 -12 111 24 113 34 115 46 134 54 144 67 157 77 163 89 167 102 168 103 169 150 169 151 168 209 168 210 167 239 166 256 161 267 154 282 137 290 126 293 119 296 116 299 115 330 114Z"/>
<path fill="#676767" d="M330 61 327 62 309 62 308 63 283 64 282 65 275 65 274 66 243 70 237 72 135 71 134 70 93 70 85 72 73 72 72 71 44 68 43 67 34 67 33 66 -8 65 -12 64 -12 110 15 111 16 112 26 112 35 114 41 125 49 136 66 155 77 162 93 167 99 167 100 168 154 168 155 167 213 167 214 166 240 165 256 160 264 155 279 139 288 127 294 116 299 114 330 113Z"/>
<path fill="#6a6a6a" d="M330 62 282 65 281 66 254 69 236 73 141 72 140 71 92 71 84 73 72 73 71 72 42 69 41 68 11 67 10 66 -11 66 -12 65 -12 109 18 110 19 111 28 111 36 113 38 115 41 123 56 143 69 156 77 161 92 166 98 166 99 167 160 167 161 166 234 165 251 161 264 154 272 146 286 128 291 119 291 117 293 115 301 113 330 112Z"/>
<path fill="#6d6d6d" d="M330 63 281 66 280 67 266 68 235 74 186 73 185 72 123 72 122 71 103 71 102 72 90 72 83 74 71 74 56 71 29 69 28 68 -12 67 -12 108 20 109 21 110 29 110 37 112 40 115 41 120 45 127 60 146 68 154 79 161 91 165 109 166 110 167 142 167 143 166 201 166 202 165 236 164 254 159 267 150 286 126 290 117 293 114 303 112 327 112 330 111Z"/>
<path fill="#707070" d="M330 64 288 66 287 67 280 67 279 68 272 68 271 69 247 72 241 74 97 72 82 75 70 75 69 74 39 71 38 70 -12 68 -12 106 -9 107 22 108 38 111 41 114 43 122 65 150 77 159 91 164 103 165 104 166 229 164 230 163 237 163 246 161 254 158 262 153 278 135 287 122 289 116 294 112 306 112 307 111 330 111Z"/>
<path fill="#737373" d="M330 65 287 67 286 68 271 69 240 75 94 73 82 76 69 76 68 75 47 73 46 72 37 72 36 71 -12 69 -12 105 23 107 39 110 42 113 43 119 49 129 61 144 71 154 81 160 94 164 100 164 101 165 153 165 154 164 232 163 252 158 263 151 282 128 288 115 291 112 330 110Z"/>
<path fill="#767676" d="M330 65 328 66 286 68 285 69 278 69 277 70 252 73 240 76 92 74 81 77 68 77 67 76 45 74 44 73 35 73 34 72 -9 71 -12 70 -12 104 26 106 41 109 43 111 44 118 47 124 65 147 77 157 93 163 98 163 99 164 159 164 160 163 234 162 247 159 260 152 269 143 285 121 287 114 290 111 330 109Z"/>
<path fill="#787878" d="M330 66 285 69 284 70 277 70 276 71 246 75 240 77 105 74 104 75 91 75 74 79 73 78 66 78 65 77 42 75 41 74 30 74 29 73 -12 72 -12 102 -10 103 29 105 42 108 44 110 47 122 62 142 73 153 79 157 93 162 111 163 112 164 140 164 141 163 199 163 200 162 235 161 250 157 261 150 280 127 284 120 285 115 288 111 296 109 330 108Z"/>
<path fill="#7b7b7b" d="M330 67 285 70 284 71 277 71 276 72 246 76 240 78 192 77 191 76 99 75 98 76 85 77 76 80 71 80 70 79 63 79 62 78 47 77 46 76 36 76 35 75 -12 74 -12 101 16 102 17 103 25 103 26 104 33 104 43 106 46 110 46 116 49 123 66 145 79 156 92 161 105 162 106 163 227 161 228 160 241 159 250 156 257 152 267 142 278 128 284 117 284 113 287 110 297 108 330 107Z"/>
<path fill="#7e7e7e" d="M330 68 285 71 284 72 277 72 276 73 252 76 240 79 233 79 232 78 195 78 194 77 96 76 81 79 77 81 65 81 64 80 34 78 33 77 4 77 3 78 -12 77 -12 97 -10 98 12 99 13 100 28 101 44 104 47 107 47 115 49 121 56 131 75 152 88 159 103 162 230 160 245 157 258 150 278 126 282 119 283 112 286 109 296 108 297 107 324 107 325 106 330 106Z"/>
<path fill="#818181" d="M330 69 285 72 284 73 277 73 240 80 235 80 234 79 199 79 198 78 94 77 84 79 74 83 42 82 41 83 22 84 9 88 11 90 47 101 49 103 49 118 55 128 74 150 83 156 91 159 101 161 155 161 156 160 232 159 245 156 255 151 265 141 276 127 281 118 282 110 284 108 296 107 297 106 324 106 325 105 330 105Z"/>
<path fill="#848484" d="M330 70 287 73 286 74 272 75 242 81 237 81 236 80 203 80 202 79 93 78 73 84 60 92 51 106 50 116 53 123 58 130 77 151 88 157 100 160 159 160 160 159 233 158 245 155 253 151 262 143 277 123 280 117 280 110 285 106 294 106 295 105 330 104Z"/>
<path fill="#878787" d="M330 71 329 72 300 73 299 74 282 75 246 82 211 81 210 80 93 79 76 84 67 90 54 104 52 108 51 115 58 128 75 148 82 153 95 158 100 159 167 159 168 158 221 158 222 157 233 157 242 155 251 151 262 141 275 124 279 115 279 108 281 106 289 104 330 103Z"/>
<path fill="#898989" d="M330 73 288 76 254 83 237 83 236 82 225 82 224 81 185 81 184 80 122 80 121 79 92 80 81 83 67 92 59 100 54 107 53 117 62 131 78 149 88 155 99 158 141 159 142 158 200 158 201 157 234 156 249 151 262 139 272 126 277 117 277 106 281 103 292 103 293 102 326 102 330 101Z"/>
<path fill="#8c8c8c" d="M330 75 291 79 274 83 262 88 254 88 242 84 226 83 225 82 124 81 123 80 92 81 82 84 68 93 57 105 54 114 59 125 71 140 80 149 89 154 99 157 143 158 144 157 202 157 203 156 234 155 250 149 257 143 273 122 276 114 273 103 274 100 276 99 310 99 311 100 330 99Z"/>
<path fill="#8f8f8f" d="M330 82 318 83 310 85 304 88 306 90 319 93 330 92ZM56 111 57 118 61 125 72 139 81 148 87 152 95 155 109 156 110 157 202 156 203 155 224 155 225 154 238 153 249 148 256 142 270 124 274 116 274 111 270 103 260 94 247 87 235 84 226 84 225 83 187 83 186 82 103 81 102 82 88 83 80 86 69 94 62 101Z"/>
<path fill="#929292" d="M58 111 58 116 61 122 74 139 82 147 88 151 96 154 111 155 112 156 200 155 201 154 222 154 223 153 237 152 248 147 259 136 270 121 272 116 272 111 269 105 259 96 245 88 234 85 224 85 223 84 185 84 184 83 105 82 104 83 89 84 81 87 68 97 61 105Z"/>
<path fill="#959595" d="M60 111 60 115 63 122 79 142 86 148 94 152 102 154 163 154 164 153 219 153 220 152 231 152 239 150 248 145 263 128 270 116 270 111 268 107 260 99 244 89 233 86 207 86 206 85 95 84 87 86 76 92 64 104Z"/>
<path fill="#989898" d="M63 110 63 117 65 121 78 138 85 145 91 149 104 153 213 152 214 151 234 150 245 145 255 135 264 123 267 117 266 108 257 99 242 90 231 87 97 85 86 88 79 92 65 106Z"/>
<path fill="#9a9a9a" d="M66 110 66 117 68 121 81 138 93 148 108 152 208 151 209 150 231 149 243 144 252 135 259 126 264 117 263 108 255 100 240 91 227 88 101 86 88 89 81 93 68 106Z"/>
<path fill="#9d9d9d" d="M69 111 69 116 74 125 81 134 92 145 104 150 114 150 115 151 198 150 199 149 228 148 235 146 243 141 257 124 261 116 261 112 258 106 250 99 238 92 231 90 221 90 220 89 183 89 182 88 120 88 119 87 97 88 82 95 73 104Z"/>
<path fill="#a0a0a0" d="M73 111 73 117 75 121 89 139 98 146 108 149 210 148 211 147 229 146 239 141 245 135 252 126 257 117 257 111 255 107 249 101 238 94 227 91 101 89 93 91 86 95 76 105Z"/>
<path fill="#a3a3a3" d="M76 113 79 122 89 135 96 142 103 146 114 147 115 148 200 147 201 146 226 145 235 141 243 133 251 122 254 114 252 108 241 98 229 93 185 92 184 91 122 91 121 90 100 91 90 95 81 103 78 107Z"/>
<path fill="#a6a6a6" d="M80 110 81 120 94 137 100 142 111 146 222 144 229 142 234 139 243 129 250 118 250 111 244 103 235 97 225 94 104 92 96 94 91 97 82 106Z"/>
<path fill="#a9a9a9" d="M83 110 84 120 92 131 102 141 109 144 118 144 119 145 196 144 197 143 223 142 233 137 243 125 247 118 246 109 238 101 230 97 218 96 217 95 118 94 117 93 102 94 93 98 85 106Z"/>
<path fill="#ababab" d="M85 112 85 116 94 130 104 140 114 143 219 141 226 139 231 136 241 124 245 116 244 110 237 103 230 99 222 97 190 97 189 96 106 95 95 99 87 107Z"/>
<path fill="#aeaeae" d="M88 111 88 117 96 129 105 138 113 141 211 140 212 139 220 139 230 134 239 123 242 117 241 110 235 104 230 101 223 99 199 99 198 98 105 97 96 101 90 107Z"/>
<path fill="#b1b1b1" d="M91 110 91 117 98 128 106 136 112 139 119 139 120 140 198 139 199 138 220 137 225 135 234 126 239 117 239 112 234 106 227 102 217 101 216 100 119 99 118 98 113 98 112 99 105 99 98 102Z"/>
<path fill="#b4b4b4" d="M94 111 94 117 102 129 107 134 113 137 118 137 119 138 199 137 200 136 219 135 225 132 230 127 236 117 235 111 230 106 223 103 218 103 217 102 121 101 120 100 112 100 101 103Z"/>
<path fill="#b7b7b7" d="M97 113 99 120 108 131 116 135 124 135 125 136 134 136 135 135 193 135 194 134 216 133 223 130 232 118 232 113 228 108 221 105 212 105 211 104 108 103 103 105 98 110Z"/>
<path fill="#bababa" d="M102 113 104 120 113 130 125 133 209 131 219 128 225 122 227 118 227 114 225 111 219 108 212 108 211 107 111 106 106 108Z"/>
<path fill="#bcbcbc" d="M112 115 114 121 118 125 130 128 136 128 137 127 194 127 195 126 205 126 212 124 217 118 216 115 212 113 180 112 179 111 119 111 113 113Z"/>
<path fill="#bfbfbf" d="M133 117 133 120 138 122 146 122 151 120 151 117 149 115 145 114 139 114 135 115Z"/>
<path fill="#c2c2c2" d="M138 118 139 119 145 119 146 118 145 117 139 117Z"/>
</g></g>
<text x="1121.6" y="46.3" font-size="36.5" fill="#fff">0.33 s</text>
<g clip-path="url(#c4)"><g transform="translate(1436.6 1)" filter="url(#cm)">
<rect x="-12" y="-12" width="347" height="268" fill="#000"/>
<path fill="#040404" d="M334 2 330 2 321 5 306 17 301 19 283 21 251 28 248 27 83 27 82 28 68 28 39 21 15 18 0 8 -7 6 -12 6 -12 153 -11 154 1 154 5 155 8 158 9 180 11 189 16 201 23 211 30 218 40 225 52 230 61 232 70 232 71 233 248 233 249 232 263 231 275 227 289 218 296 211 303 201 307 192 310 180 311 158 315 155 320 154 334 154Z"/>
<path fill="#070707" d="M334 5 330 5 320 9 311 17 304 21 279 24 250 31 241 31 240 30 90 30 89 31 71 31 38 23 13 20 -3 10 -12 9 -12 151 -9 152 5 152 9 153 12 156 12 170 13 171 14 185 17 194 22 203 38 219 47 224 56 227 70 228 71 229 248 229 249 228 263 227 272 224 285 216 294 207 300 198 306 180 307 158 308 156 312 153 317 152 331 152 334 151Z"/>
<path fill="#0a0a0a" d="M334 7 331 7 321 11 312 19 304 23 297 23 296 24 278 26 251 33 71 33 39 25 12 22 -2 13 -12 11 -12 149 -11 150 4 150 14 153 15 155 16 180 19 191 23 199 35 213 42 218 53 223 61 225 69 225 70 226 249 226 269 222 284 213 296 199 300 191 303 180 304 158 305 156 311 151 334 150Z"/>
<path fill="#0d0d0d" d="M334 9 323 12 308 24 282 27 250 35 71 35 40 27 12 24 -2 15 -12 13 -12 148 10 149 14 150 18 154 19 182 21 189 26 199 39 213 55 221 65 223 254 223 267 220 280 213 293 199 298 189 300 182 301 160 304 154 308 150 312 149 334 148Z"/>
<path fill="#101010" d="M334 11 330 11 325 13 313 23 307 26 299 26 298 27 280 29 247 37 245 36 86 36 85 37 73 37 37 28 10 25 -4 16 -12 15 -12 146 14 148 17 149 20 152 21 180 24 190 28 198 43 213 57 219 67 220 68 221 251 221 268 217 280 210 291 198 297 184 298 174 299 173 299 160 303 152 306 149 314 147 334 146Z"/>
<path fill="#121212" d="M334 12 325 15 309 27 283 30 251 38 79 38 76 39 39 30 19 28 18 27 10 27 0 20 -6 17 -12 16 -12 145 12 146 17 147 22 151 23 179 25 187 30 197 41 209 57 217 69 218 70 219 249 219 265 216 278 209 289 197 295 184 296 172 297 171 297 160 302 151 305 148 310 146 334 145Z"/>
<path fill="#151515" d="M334 14 323 18 313 27 308 29 299 29 298 30 280 32 248 40 243 40 242 39 88 39 87 40 73 40 42 32 8 28 -3 20 -12 18 -12 143 15 145 21 147 24 150 25 179 30 193 34 199 42 207 48 211 58 215 69 216 70 217 249 217 267 213 277 207 285 199 289 193 294 179 295 160 300 151 305 146 308 145 334 143Z"/>
<path fill="#181818" d="M334 16 326 18 313 29 310 30 283 33 251 41 79 41 76 42 34 32 9 30 -5 21 -12 20 -12 142 18 144 23 146 26 149 26 172 27 173 28 183 31 191 39 202 45 207 58 213 68 214 69 215 250 215 264 212 274 207 280 202 288 191 292 179 293 160 299 150 306 144 334 142Z"/>
<path fill="#1b1b1b" d="M334 17 326 20 312 31 285 34 247 43 245 42 86 42 85 43 73 43 37 34 7 31 -1 25 -12 21 -12 140 20 143 27 147 28 149 28 173 31 186 35 194 43 203 58 211 68 213 251 213 264 210 276 203 284 194 290 179 291 161 300 146 302 144 308 142 334 140Z"/>
<path fill="#1e1e1e" d="M334 19 327 21 318 29 311 33 302 33 301 34 282 36 251 44 71 44 40 36 21 34 20 33 9 33 4 31 -6 24 -12 23 -12 139 10 140 11 141 22 142 27 144 30 148 30 174 31 175 31 180 36 192 46 203 61 210 66 210 67 211 252 211 264 208 273 203 283 192 288 180 290 159 301 143 312 140 334 139Z"/>
<path fill="#212121" d="M334 21 331 21 327 23 313 34 297 35 296 36 279 38 253 45 83 45 82 46 73 46 38 37 17 35 16 34 7 34 4 33 -2 28 -12 24 -12 137 -11 138 14 139 29 143 31 145 32 149 32 175 35 186 44 199 51 204 61 208 66 209 253 209 264 206 275 199 282 190 286 180 288 160 297 145 301 141 309 139 333 138 334 137Z"/>
<path fill="#232323" d="M334 22 330 23 324 27 315 35 287 38 251 47 71 47 41 39 5 35 -5 28 -12 26 -12 136 9 137 29 141 33 145 34 176 37 186 42 194 51 202 65 207 254 207 268 202 280 190 285 176 286 160 296 144 300 140 313 137 334 136Z"/>
<path fill="#262626" d="M334 24 328 26 318 35 314 37 289 39 253 48 82 48 81 49 74 49 61 45 57 45 33 39 19 38 18 37 6 37 -12 27 -12 135 12 136 32 141 35 145 36 176 38 183 42 191 50 199 61 204 78 205 79 206 240 206 241 205 258 204 269 199 277 191 283 176 284 161 295 143 300 138 310 136 334 135Z"/>
<path fill="#292929" d="M334 26 328 28 316 38 286 41 250 50 72 50 36 41 24 40 23 39 14 39 13 38 4 38 -6 31 -12 29 -12 133 15 135 32 139 37 145 38 176 40 183 44 190 51 197 61 202 81 203 82 204 237 204 238 203 258 202 268 197 277 187 281 176 282 161 294 142 299 137 315 134 334 133Z"/>
<path fill="#2c2c2c" d="M334 27 328 30 319 38 314 40 303 40 302 41 283 43 252 51 82 51 81 52 74 52 34 42 2 39 -6 33 -12 31 -12 132 11 133 33 138 39 145 40 174 42 182 46 189 52 195 62 200 67 201 252 201 257 200 267 195 275 186 278 179 280 161 296 137 300 135 310 134 311 133 334 132Z"/>
<path fill="#2f2f2f" d="M334 29 317 41 307 41 306 42 285 44 250 53 72 53 37 44 16 42 15 41 3 41 -8 34 -12 33 -12 130 -10 131 14 132 29 135 36 138 41 144 42 147 42 171 44 180 51 191 64 198 69 198 70 199 249 199 250 198 255 198 264 194 272 186 276 177 277 164 283 153 296 135 308 132 332 131 334 130Z"/>
<path fill="#323232" d="M334 32 332 32 319 42 288 45 252 54 82 54 81 55 74 55 39 46 20 44 19 43 0 42 -12 35 -12 129 11 130 12 131 23 132 36 136 44 146 45 150 45 172 47 180 49 184 57 192 64 195 69 196 250 196 255 195 262 192 270 184 273 177 275 164 278 158 295 134 300 132 311 131 312 130 334 129Z"/>
<path fill="#343434" d="M334 34 325 41 319 44 292 46 272 50 251 56 70 56 35 47 22 46 21 45 11 45 10 44 0 44 -8 39 -12 38 -12 127 16 129 30 132 37 135 43 141 48 149 48 164 49 165 49 174 51 180 58 188 67 192 103 193 104 194 244 193 245 192 252 192 258 190 266 183 268 180 271 168 275 160 290 137 295 132 307 129 334 127Z"/>
<path fill="#373737" d="M334 38 320 46 307 46 306 47 286 49 255 57 83 57 82 58 70 58 34 49 21 48 20 47 -2 46 -12 41 -12 125 16 127 36 132 46 142 52 151 53 154 53 168 57 180 61 184 68 187 91 188 105 192 231 191 232 190 248 189 261 182 275 157 293 131 308 127 333 126 334 125Z"/>
<path fill="#3a3a3a" d="M334 43 326 47 286 51 256 59 237 59 236 58 94 58 93 59 68 60 37 52 17 50 16 49 0 49 -12 46 -12 122 -11 123 13 124 32 128 36 130 49 143 57 153 59 157 61 173 66 179 71 181 85 182 100 189 114 190 115 191 144 191 145 190 209 190 210 189 242 188 253 184 261 177 270 162 293 129 297 127 307 126 308 125 332 124 334 123Z"/>
<path fill="#3d3d3d" d="M334 48 324 49 323 50 309 50 308 51 293 52 273 57 269 57 256 61 249 61 248 60 83 60 76 62 66 62 49 57 28 53 -12 50 -12 120 17 122 30 125 37 128 63 156 71 171 82 176 94 185 107 189 155 189 156 188 218 188 219 187 243 186 254 181 261 174 292 127 307 123 334 121Z"/>
<path fill="#404040" d="M334 51 294 54 274 59 270 59 257 63 241 62 240 61 90 61 89 62 80 62 70 65 31 56 16 55 15 54 -12 53 -12 117 14 119 35 124 87 178 94 183 101 186 114 187 115 188 144 188 145 187 208 187 209 186 241 185 251 181 259 174 284 137 288 129 293 124 314 120 334 119Z"/>
<path fill="#434343" d="M334 53 295 56 275 61 271 61 258 65 248 63 82 63 70 67 66 67 61 65 57 65 48 62 27 58 -12 55 -12 115 18 117 36 122 41 127 43 131 92 180 107 186 156 186 157 185 238 184 248 181 257 174 281 139 289 125 292 122 313 118 334 117Z"/>
<path fill="#454545" d="M334 55 296 58 276 63 272 63 259 67 243 64 87 64 86 65 76 66 70 69 63 69 50 65 30 61 24 61 23 60 -12 58 -12 112 15 114 36 119 41 124 44 130 92 178 101 183 111 184 112 185 148 185 149 184 211 184 212 183 240 182 250 178 255 174 280 138 290 121 298 118 310 117 311 116 334 115Z"/>
<path fill="#484848" d="M334 57 298 60 273 65 260 69 248 66 82 66 75 68 70 71 61 71 52 68 26 63 -12 61 -12 109 -10 110 2 110 3 111 19 112 32 115 39 118 45 129 52 137 93 177 103 182 107 183 158 183 159 182 238 181 249 177 258 168 277 140 287 122 291 118 310 114 334 113Z"/>
<path fill="#4b4b4b" d="M334 59 332 60 299 62 274 67 262 71 258 71 254 69 244 67 86 67 74 70 67 74 62 74 53 71 28 66 -12 63 -12 107 18 109 35 113 39 115 45 126 51 134 94 176 105 181 110 181 111 182 150 182 151 181 234 180 246 177 257 167 281 131 286 120 290 116 308 112 334 111Z"/>
<path fill="#4e4e4e" d="M334 62 301 64 280 68 263 73 258 73 248 69 82 69 65 77 34 70 20 69 19 68 -11 67 -12 66 -12 104 12 105 28 108 40 112 43 116 46 125 52 133 94 174 103 179 107 180 163 180 164 179 225 179 226 178 238 178 248 174 256 166 277 135 285 120 285 118 289 114 306 110 332 109 334 108Z"/>
<path fill="#515151" d="M334 64 298 67 266 75 259 75 253 72 245 70 85 70 77 72 63 80 25 72 -12 70 -12 100 20 103 41 109 44 113 46 122 52 131 95 173 105 178 110 179 153 179 154 178 235 177 247 173 255 165 276 134 283 121 284 116 287 112 302 108 334 106Z"/>
<path fill="#545454" d="M334 67 299 70 267 78 261 78 252 73 241 72 240 71 90 71 89 72 78 73 63 83 22 75 -12 73 -12 97 17 99 35 103 43 106 46 111 47 121 52 129 96 172 103 176 113 177 114 178 231 176 232 175 242 174 246 172 254 164 278 128 282 120 283 113 286 109 291 107 301 105 308 105 309 104 320 104 321 105 334 104Z"/>
<path fill="#565656" d="M334 70 333 71 309 72 308 73 295 74 277 78 269 81 262 81 255 76 246 73 84 73 75 76 62 86 55 86 34 81 20 80 19 79 -12 78 -12 92 19 95 36 99 47 104 48 119 53 128 97 171 102 174 109 176 221 175 222 174 236 174 243 172 253 163 276 129 280 121 282 114 282 109 284 106 293 103 305 102 306 101 314 101 319 103 334 103Z"/>
<path fill="#595959" d="M18 87 49 97 51 99 49 108 49 118 54 127 98 170 103 173 111 175 215 174 216 173 239 172 245 169 252 162 270 136 279 120 280 105 283 102 301 98 311 98 321 102 334 102 334 74 299 77 268 85 265 85 257 79 249 75 244 74 86 74 76 77 59 91 49 91 35 88Z"/>
<path fill="#5c5c5c" d="M50 116 52 122 60 132 100 170 107 173 113 173 114 174 147 174 148 173 231 172 232 171 237 171 244 168 252 160 271 132 278 119 279 109 277 100 280 97 292 94 308 93 314 98 321 101 334 101 334 77 323 77 311 81 295 83 274 89 267 89 256 80 247 76 241 76 240 75 90 75 77 78 70 83 55 98 50 110Z"/>
<path fill="#5f5f5f" d="M310 86 310 91 316 98 321 100 334 100 334 79 321 79 316 81ZM52 108 52 118 58 128 98 167 109 172 190 172 191 171 236 170 243 167 248 163 269 133 277 118 277 107 271 95 255 81 246 77 191 77 190 76 84 77 80 78 72 83 56 100Z"/>
<path fill="#626262" d="M313 86 312 91 314 95 318 98 324 100 334 99 334 81 333 80 322 80 317 82ZM53 109 53 117 58 126 99 166 110 171 235 169 241 167 248 161 270 129 276 116 275 105 269 96 258 85 251 80 245 78 85 78 74 83 57 101Z"/>
<path fill="#656565" d="M315 85 314 93 318 97 323 99 334 98 334 82 333 81 322 81ZM54 110 55 119 62 129 97 163 101 166 111 170 217 169 218 168 233 168 240 166 249 158 270 127 275 115 274 106 267 96 255 84 250 81 243 79 86 79 76 83 61 98Z"/>
<path fill="#676767" d="M315 87 315 92 318 96 322 98 332 98 334 97 334 83 333 82 322 82ZM55 112 56 118 60 125 100 164 105 167 112 169 215 168 216 167 237 166 245 161 268 128 274 114 273 107 268 99 253 84 242 80 87 80 80 82 75 85 60 101Z"/>
<path fill="#6a6a6a" d="M317 86 316 92 322 97 333 97 334 96 334 84 333 83 328 83 327 82 322 83ZM57 109 58 120 65 129 102 164 113 168 214 167 215 166 232 166 242 162 247 157 263 134 272 117 272 108 263 95 251 84 241 81 88 81 77 85 63 99Z"/>
<path fill="#6d6d6d" d="M318 87 317 91 320 95 326 97 334 95 334 85 333 84 326 83 322 84ZM58 109 58 117 62 124 101 162 106 165 113 167 213 166 214 165 236 164 240 162 250 151 263 132 271 117 271 109 266 100 252 86 241 82 89 82 81 84 76 87 62 102Z"/>
<path fill="#707070" d="M319 88 319 92 322 95 329 96 334 94 334 86 333 85 325 84 322 85ZM59 110 60 119 66 127 99 159 106 164 114 166 213 165 214 164 231 164 241 160 248 152 265 127 270 116 270 109 267 103 262 97 250 86 240 83 89 83 78 87 65 100Z"/>
<path fill="#737373" d="M320 89 321 93 326 95 334 93 334 87 326 85 321 87ZM60 111 60 115 64 123 103 161 114 165 214 164 215 163 235 162 239 160 249 149 265 125 269 116 269 110 265 102 251 88 240 84 89 84 82 86 77 89 64 103Z"/>
<path fill="#767676" d="M322 89 322 91 324 93 330 93 333 91 333 89 330 87 324 87ZM61 111 62 118 66 124 102 159 109 163 114 164 214 163 215 162 234 161 240 158 247 150 262 128 268 115 267 107 262 100 252 90 245 86 240 85 89 85 82 87 76 91 65 103Z"/>
<path fill="#787878" d="M325 89 325 91 329 91 329 89ZM62 112 65 121 84 141 104 159 114 163 215 162 216 161 234 160 238 158 248 147 262 126 267 115 266 108 258 97 249 89 240 86 89 86 79 90 68 101Z"/>
<path fill="#7b7b7b" d="M64 109 64 117 67 122 104 158 114 162 215 161 216 160 234 159 238 157 249 144 261 126 266 114 265 108 261 102 250 91 240 87 90 87 85 88 78 92 71 99Z"/>
<path fill="#7e7e7e" d="M65 110 65 116 69 123 103 156 114 161 215 160 216 159 234 158 241 153 261 124 265 113 262 105 251 93 244 89 239 88 90 88 81 91 69 103Z"/>
<path fill="#818181" d="M66 110 66 116 73 126 106 157 114 160 216 159 217 158 233 157 237 155 242 150 258 127 263 117 263 109 260 104 249 93 239 89 90 89 80 93 71 102Z"/>
<path fill="#848484" d="M67 111 67 115 71 122 105 155 114 159 215 158 216 157 233 156 239 152 255 130 262 117 262 110 257 102 247 93 238 90 91 90 86 91 77 97 70 105Z"/>
<path fill="#878787" d="M68 113 70 119 92 142 107 155 115 158 214 157 215 156 232 155 236 153 244 144 255 128 261 116 261 111 258 105 248 95 237 91 92 91 81 95 70 107Z"/>
<path fill="#898989" d="M70 110 70 116 79 128 106 153 116 157 212 156 213 155 231 154 235 152 244 142 256 124 260 114 259 109 251 99 244 94 234 92 93 92 85 94 73 105Z"/>
<path fill="#8c8c8c" d="M71 112 72 117 76 123 94 141 110 154 118 156 209 155 210 154 230 153 234 151 241 144 251 130 258 116 258 111 256 107 249 99 239 94 226 94 225 93 98 93 97 94 89 94 78 101 73 107Z"/>
<path fill="#8f8f8f" d="M73 111 73 115 77 122 99 144 111 153 121 155 205 154 206 153 228 152 233 150 240 143 250 129 256 118 255 108 245 98 236 95 211 95 210 94 110 94 109 95 92 95 84 98 79 102Z"/>
<path fill="#929292" d="M75 111 76 118 84 128 106 148 117 153 193 153 194 152 212 152 213 151 229 150 233 148 239 142 249 128 254 118 254 110 246 101 237 97 226 97 225 96 194 96 193 95 97 96 96 97 90 97 84 100 77 107Z"/>
<path fill="#959595" d="M77 111 77 115 80 121 93 135 109 148 116 151 122 151 123 152 204 151 205 150 215 150 216 149 228 148 232 146 239 139 245 131 252 118 252 111 245 103 240 100 228 99 227 98 207 98 206 97 164 97 163 96 157 96 156 97 96 98 86 101Z"/>
<path fill="#989898" d="M80 111 80 116 84 123 100 139 109 146 116 149 121 149 122 150 185 150 186 149 204 149 205 148 214 148 215 147 226 146 231 144 238 137 245 127 249 118 248 110 243 105 236 102 222 101 221 100 207 100 206 99 186 99 185 98 135 98 134 99 100 100 88 103Z"/>
<path fill="#9a9a9a" d="M84 112 84 117 86 121 95 132 112 145 126 148 184 148 185 147 200 147 201 146 222 144 231 140 236 135 241 128 245 118 245 115 243 111 232 105 213 103 212 102 185 101 184 100 136 100 135 101 108 102 92 105 87 108Z"/>
<path fill="#9d9d9d" d="M89 116 90 120 95 128 101 134 111 141 119 144 135 145 136 146 175 146 176 145 192 145 193 144 213 142 221 140 230 135 235 129 238 122 238 118 233 112 223 108 209 105 193 104 192 103 176 103 175 102 145 102 144 103 128 103 127 104 112 105 98 108 91 112Z"/>
<path fill="#a0a0a0" d="M97 119 99 126 110 136 123 141 138 142 139 143 177 143 178 142 188 142 189 141 202 140 216 136 222 133 228 126 227 118 217 112 202 108 189 107 188 106 178 106 177 105 143 105 142 106 132 106 131 107 118 108 102 113Z"/>
<path fill="#a3a3a3" d="M108 120 108 125 114 132 123 136 139 139 179 139 180 138 193 137 209 132 216 126 215 120 207 115 193 111 180 110 179 109 141 109 140 110 133 110 116 114Z"/>
<path fill="#a6a6a6" d="M122 122 122 126 127 130 143 134 158 134 159 135 161 134 176 134 177 133 187 132 195 129 199 125 199 123 193 118 176 114 144 114 130 117Z"/>
</g></g>
<text x="1461.6" y="46.3" font-size="36.5" fill="#fff">0.66 s</text>
<g clip-path="url(#c5)"><g transform="translate(1781.6 1)" filter="url(#cm)">
<rect x="-12" y="-12" width="343" height="268" fill="#000"/>
<path fill="#040404" d="M330 3 322 4 315 7 302 18 297 20 280 22 247 29 98 29 90 31 76 31 39 22 20 20 14 18 7 12 0 8 -7 6 -12 6 -12 154 -11 155 1 155 5 156 8 159 9 180 11 189 16 201 23 211 30 218 40 225 52 230 61 232 70 232 71 233 248 233 249 232 263 231 275 227 285 221 296 211 311 201 320 192 330 179Z"/>
<path fill="#070707" d="M330 6 322 7 316 10 300 22 281 24 248 32 110 32 109 33 96 33 88 35 78 34 38 24 17 22 12 20 6 15 -3 10 -12 9 -12 152 -9 153 5 153 9 154 12 157 12 170 13 171 14 185 17 194 22 203 38 219 47 224 56 227 70 228 71 229 248 229 249 228 263 227 272 224 281 219 292 209 307 199 317 189 326 175 330 171Z"/>
<path fill="#0a0a0a" d="M330 8 327 8 317 12 305 22 300 24 280 26 243 35 104 35 94 37 83 37 49 28 13 23 -2 13 -12 11 -12 150 -11 151 11 152 14 154 15 156 16 180 19 191 23 199 35 213 42 218 53 223 61 225 69 225 70 226 249 226 269 222 280 216 291 206 308 194 316 185 325 169 330 164Z"/>
<path fill="#0d0d0d" d="M330 10 319 13 303 25 279 28 243 37 110 37 109 38 97 38 96 39 84 39 40 28 13 25 -2 15 -12 13 -12 149 11 150 17 153 18 155 19 182 21 189 26 199 39 213 55 221 65 223 254 223 267 220 280 213 287 206 298 199 310 188 316 180 324 164 330 156Z"/>
<path fill="#101010" d="M330 12 326 12 319 15 303 27 282 29 242 39 111 39 110 40 98 40 97 41 85 41 37 29 14 27 9 25 -4 16 -12 15 -12 147 14 149 17 150 20 153 21 180 24 190 28 198 43 213 57 219 67 220 68 221 251 221 268 217 276 213 287 203 298 196 310 184 316 175 326 154 330 150Z"/>
<path fill="#121212" d="M330 13 319 17 305 28 280 31 240 41 108 41 107 42 97 42 96 43 87 43 39 31 11 28 0 20 -6 17 -12 16 -12 146 12 147 17 148 22 152 23 179 25 187 30 197 41 209 57 217 69 218 70 219 249 219 265 216 278 209 286 201 297 194 308 183 312 177 324 151 328 147 330 147Z"/>
<path fill="#151515" d="M330 15 322 17 310 27 304 30 296 30 295 31 277 33 238 43 104 43 94 45 80 43 68 39 42 33 9 29 -3 20 -12 18 -12 144 8 145 21 148 24 151 25 179 30 193 34 199 42 207 52 213 62 216 69 216 70 217 249 217 267 213 277 207 284 200 295 193 306 182 310 176 323 148 326 145 330 145Z"/>
<path fill="#181818" d="M330 17 322 19 306 31 285 33 235 45 101 45 100 46 87 46 58 38 54 38 34 33 10 31 -1 23 -8 20 -12 20 -12 143 12 144 22 146 26 150 26 172 27 173 28 183 31 191 39 202 45 207 58 213 68 214 69 215 250 215 264 212 274 207 285 197 293 192 304 181 315 161 320 148 324 144 330 143Z"/>
<path fill="#1b1b1b" d="M330 18 320 22 308 32 282 35 238 46 110 46 109 47 98 47 97 48 85 47 37 35 8 32 -1 25 -12 21 -12 141 -9 142 7 142 8 143 15 143 24 145 28 149 28 173 30 183 35 194 47 206 58 211 68 213 251 213 264 210 272 206 283 196 290 192 297 186 305 176 319 145 323 142 330 141Z"/>
<path fill="#1e1e1e" d="M330 20 323 22 307 34 299 34 298 35 279 37 235 48 103 48 102 49 88 49 40 37 21 35 20 34 10 34 5 32 -4 25 -12 23 -12 140 11 141 26 144 30 149 30 174 31 175 31 180 36 192 46 203 61 210 66 210 67 211 252 211 264 208 273 203 280 196 287 192 298 182 305 172 317 144 321 141 330 140Z"/>
<path fill="#212121" d="M330 21 323 24 309 35 281 38 238 49 115 49 114 50 99 50 98 51 85 50 38 38 8 35 5 34 -2 28 -12 24 -12 138 -11 139 14 140 29 144 32 148 32 175 35 186 44 199 51 204 61 208 66 209 253 209 264 206 288 189 298 179 308 161 315 143 318 140 321 139 330 139Z"/>
<path fill="#232323" d="M330 23 324 25 312 35 307 37 298 37 297 38 278 40 235 51 105 51 104 52 88 52 41 40 6 36 -5 28 -12 26 -12 137 17 139 31 143 33 145 34 149 34 176 37 186 42 194 51 202 65 207 254 207 268 202 278 193 285 189 292 183 301 171 311 147 316 139 330 137Z"/>
<path fill="#262626" d="M330 25 324 27 312 37 309 38 286 40 262 46 258 46 254 48 237 52 119 52 118 53 100 53 99 54 86 53 65 48 61 46 57 46 33 40 19 39 18 38 7 38 4 37 -5 30 -12 27 -12 136 13 137 33 142 35 144 36 176 38 183 42 191 50 199 61 204 78 205 79 206 240 206 241 205 258 204 269 199 275 193 286 186 293 179 298 172 305 158 310 144 314 138 320 136 330 136Z"/>
<path fill="#292929" d="M330 27 327 27 311 39 283 42 235 54 105 54 104 55 89 55 36 42 5 39 -6 31 -12 29 -12 134 16 136 35 141 37 143 38 176 40 183 44 190 51 197 61 202 81 203 82 204 237 204 238 203 258 202 265 199 272 193 279 189 293 176 297 170 307 146 313 136 330 134Z"/>
<path fill="#2c2c2c" d="M330 28 324 31 315 39 310 41 285 43 237 55 229 55 228 56 101 56 100 57 92 57 34 43 20 42 19 41 7 41 3 40 -6 33 -12 31 -12 133 12 134 28 137 37 140 40 145 40 174 42 182 46 189 52 195 62 200 67 201 106 201 107 202 252 201 257 200 267 195 284 183 289 178 294 171 301 157 306 143 311 135 330 133Z"/>
<path fill="#2f2f2f" d="M330 30 324 33 313 42 304 42 303 43 282 45 234 57 106 57 105 58 89 58 36 45 31 45 24 43 15 43 14 42 4 42 1 41 -8 34 -12 33 -12 131 15 133 39 139 42 142 42 171 44 180 51 191 64 198 69 198 70 199 106 199 107 200 249 199 250 198 255 198 266 193 280 184 289 175 297 161 306 138 309 134 315 132 329 132 330 131Z"/>
<path fill="#323232" d="M330 33 326 34 317 42 312 44 301 44 300 45 286 46 238 58 231 58 230 59 102 59 101 60 85 59 52 50 26 45 4 44 -12 35 -12 130 14 131 42 138 45 142 45 172 47 180 49 184 57 192 64 195 69 196 96 196 106 198 213 198 214 197 243 197 244 196 256 195 274 186 288 173 296 158 302 142 308 132 310 131 330 130Z"/>
<path fill="#343434" d="M330 35 316 45 286 48 237 60 108 60 98 62 89 62 35 49 2 46 -8 39 -12 38 -12 127 10 128 11 129 23 130 43 135 46 137 48 140 48 161 49 162 49 174 51 180 58 188 67 192 92 193 98 195 112 196 113 197 220 196 221 195 242 195 243 194 254 193 265 189 275 183 282 177 288 169 295 155 300 141 304 133 309 129 330 128Z"/>
<path fill="#373737" d="M330 39 316 48 307 48 306 49 285 51 245 61 236 61 235 62 104 62 89 65 81 65 33 54 6 52 -7 43 -12 41 -12 121 9 122 10 123 21 124 46 131 49 134 53 145 53 167 55 176 61 184 68 187 83 188 94 192 109 195 226 194 227 193 250 192 260 189 270 184 281 175 286 168 293 154 302 131 306 127 330 125Z"/>
<path fill="#3a3a3a" d="M330 44 319 51 293 53 273 58 269 58 252 63 113 63 112 64 96 65 80 70 33 61 7 60 -9 47 -12 46 -12 113 12 115 46 124 51 131 59 152 60 170 62 175 68 180 78 182 94 190 97 190 101 192 117 193 118 194 213 193 214 192 235 192 236 191 251 190 268 183 280 173 291 153 301 128 305 124 330 122Z"/>
<path fill="#3d3d3d" d="M330 53 285 58 260 65 107 65 106 66 95 67 76 75 71 75 31 67 -12 65 -12 107 19 110 49 119 51 121 53 131 63 153 69 170 77 178 84 183 100 190 111 191 112 192 162 192 163 191 221 191 222 190 247 189 258 186 268 181 278 172 288 154 298 128 303 121 305 120 330 119Z"/>
<path fill="#404040" d="M330 57 300 59 279 63 263 68 255 68 254 67 104 67 89 71 75 79 67 79 62 77 30 71 -12 69 -12 103 19 106 51 115 54 118 54 124 57 135 71 166 75 172 82 179 94 186 109 190 170 190 171 189 243 188 258 184 266 180 276 171 285 155 293 134 296 129 297 124 301 118 309 116 328 116 330 115Z"/>
<path fill="#434343" d="M330 60 291 64 265 71 255 69 247 69 246 68 110 68 91 72 73 83 26 74 -12 72 -12 100 8 101 9 102 21 103 54 112 57 116 57 127 59 134 75 168 85 179 96 185 115 189 237 187 256 183 267 177 275 169 289 140 297 117 300 114 330 112Z"/>
<path fill="#454545" d="M330 64 300 66 284 69 267 74 250 70 106 70 93 73 82 79 74 86 67 86 30 78 -12 76 -12 96 19 99 58 110 60 113 59 117 60 130 77 167 87 178 98 184 111 187 164 187 165 186 241 185 251 183 262 178 273 168 281 153 289 132 292 127 295 115 298 111 301 110 330 109Z"/>
<path fill="#484848" d="M330 67 302 69 286 72 273 76 265 76 257 73 242 72 241 71 115 71 114 72 104 72 93 75 85 79 73 90 67 90 56 87 51 87 32 83 24 83 23 82 -7 82 -12 81 -12 91 6 92 7 93 23 95 60 106 63 109 62 119 61 120 62 129 74 157 84 173 90 178 98 182 109 185 119 185 120 186 233 184 234 183 243 183 254 180 262 176 268 171 277 157 290 126 293 111 296 108 306 106 327 106 330 105Z"/>
<path fill="#4b4b4b" d="M330 70 298 73 275 79 267 79 258 75 248 73 108 73 98 75 87 80 71 96 65 96 50 93 45 93 45 94 62 100 67 104 67 108 64 116 64 128 66 134 74 150 74 152 84 170 89 175 100 181 113 184 239 182 252 179 263 173 268 168 276 154 284 133 287 128 290 119 291 107 293 105 302 103 330 102Z"/>
<path fill="#4e4e4e" d="M330 74 301 76 273 83 259 77 251 75 105 75 92 79 86 83 77 93 71 103 66 116 66 127 73 145 85 168 97 178 110 182 178 182 179 181 230 181 231 180 247 179 255 176 261 172 269 163 286 125 288 118 288 104 290 102 297 100 308 100 309 99 330 99Z"/>
<path fill="#515151" d="M68 126 73 140 86 166 94 174 104 179 114 180 115 181 159 181 160 180 218 180 219 179 244 178 258 172 268 161 285 121 286 107 284 100 287 97 291 96 329 95 330 94 330 78 304 80 286 84 278 87 274 87 257 78 247 77 246 76 110 76 109 77 103 77 92 81 81 91 70 111 68 117Z"/>
<path fill="#545454" d="M330 84 329 85 319 85 311 87 312 88 330 88ZM70 125 74 137 87 164 93 171 101 176 112 179 227 178 228 177 240 177 251 174 262 166 271 150 281 126 284 116 284 109 278 95 273 90 262 82 249 78 107 78 96 81 85 89 72 112 70 119Z"/>
<path fill="#565656" d="M72 122 75 134 89 163 96 171 106 176 116 177 117 178 236 176 249 173 256 169 261 164 270 147 279 125 282 111 280 104 275 96 265 86 258 82 251 80 245 80 244 79 112 79 98 82 91 86 86 91 76 108Z"/>
<path fill="#595959" d="M75 127 86 153 93 165 101 172 113 176 165 176 166 175 239 174 249 171 254 168 263 157 279 118 279 108 273 97 263 87 258 84 248 81 108 81 96 85 87 93 77 111 75 117Z"/>
<path fill="#5c5c5c" d="M77 125 82 139 94 163 103 171 111 174 117 174 118 175 155 175 156 174 234 173 247 170 252 167 258 161 263 152 271 131 274 126 277 116 277 110 274 102 266 92 258 86 250 83 244 83 243 82 113 82 100 85 95 88 89 94 79 112 77 119Z"/>
<path fill="#5f5f5f" d="M80 127 94 159 103 169 110 172 115 173 164 173 165 172 223 172 224 171 237 171 249 167 258 157 274 119 274 108 270 100 262 91 254 86 246 84 110 84 98 88 90 96 80 116Z"/>
<path fill="#626262" d="M82 126 85 135 97 160 101 165 109 170 119 172 233 170 243 168 247 166 255 158 272 118 272 109 269 102 259 91 252 87 242 85 114 85 104 87 95 93 90 100 83 114Z"/>
<path fill="#656565" d="M84 125 88 137 98 158 105 166 115 170 225 169 226 168 241 167 247 164 252 159 267 126 270 117 270 110 265 100 256 91 246 87 110 87 100 91 95 96 86 112 84 118Z"/>
<path fill="#676767" d="M86 125 91 139 101 159 107 165 113 168 118 169 159 169 160 168 234 167 245 163 251 157 265 126 268 116 268 110 265 103 256 93 251 90 243 88 113 88 102 92 96 98 87 115Z"/>
<path fill="#6a6a6a" d="M88 125 93 139 103 159 108 164 115 167 121 167 122 168 153 168 154 167 231 166 240 164 244 162 249 157 263 126 266 117 266 110 264 105 257 96 249 91 239 89 117 89 107 91 103 93 98 98 89 115Z"/>
<path fill="#6d6d6d" d="M90 126 99 148 106 160 111 164 117 166 142 167 143 166 226 165 241 162 246 158 251 150 262 124 264 117 264 110 260 102 252 94 244 91 231 91 230 90 126 90 125 91 112 91 103 95 98 101 90 118Z"/>
<path fill="#707070" d="M92 127 105 156 111 162 119 165 162 165 163 164 221 164 222 163 233 163 241 160 247 154 261 122 262 109 259 103 252 96 242 92 114 92 103 97 98 104 92 117Z"/>
<path fill="#737373" d="M93 124 97 136 105 153 112 161 116 163 121 164 158 164 159 163 232 162 240 159 247 151 259 123 261 112 259 106 251 97 241 93 116 93 107 96 101 102 95 113Z"/>
<path fill="#767676" d="M95 126 99 137 108 155 113 160 123 163 155 163 156 162 230 161 239 158 244 153 258 121 259 111 256 104 250 98 239 94 118 94 108 97 102 103 95 118Z"/>
<path fill="#787878" d="M97 127 108 152 114 159 119 161 124 161 125 162 151 162 152 161 227 160 238 157 244 150 257 119 257 110 254 104 249 99 242 96 237 96 236 95 120 95 111 97 104 103 97 117Z"/>
<path fill="#7b7b7b" d="M98 125 109 151 114 157 120 160 143 161 144 160 224 159 225 158 235 157 241 152 254 123 256 112 253 105 248 100 241 97 231 97 230 96 127 96 126 97 115 97 110 99 105 104 100 113 98 119Z"/>
<path fill="#7e7e7e" d="M100 127 112 153 115 156 122 159 230 157 237 154 241 149 254 118 254 111 251 105 247 101 239 98 117 98 110 101 105 107 100 118Z"/>
<path fill="#818181" d="M101 123 104 133 112 150 115 154 120 157 125 158 155 158 156 157 214 157 215 156 228 156 234 154 241 146 252 119 252 110 247 103 237 99 119 99 111 102 108 105 103 114Z"/>
<path fill="#848484" d="M103 124 107 136 114 150 122 156 147 157 148 156 223 155 224 154 230 154 237 149 249 123 251 114 249 108 244 103 239 101 232 101 231 100 125 100 124 101 117 101 113 103 108 108 104 116Z"/>
<path fill="#878787" d="M105 124 107 131 115 148 120 153 126 155 226 153 232 151 238 144 248 120 248 110 245 106 236 102 121 102 117 103 111 107 107 114Z"/>
<path fill="#898989" d="M108 127 117 147 121 151 126 153 217 152 218 151 229 150 234 146 243 127 246 118 246 112 241 106 236 104 121 104 116 106 111 111 108 118Z"/>
<path fill="#8c8c8c" d="M111 127 120 146 123 149 130 151 223 149 229 147 232 144 243 118 243 113 239 108 233 106 124 106 118 108 114 112 111 118Z"/>
<path fill="#8f8f8f" d="M116 127 122 141 127 146 130 147 143 148 144 147 203 147 204 146 217 146 225 144 229 140 237 122 238 115 235 111 224 110 223 109 133 109 132 110 124 110 118 114 116 118Z"/>
<path fill="#929292" d="M132 123 133 131 136 135 141 137 208 136 214 134 218 130 219 123 215 120 137 120Z"/>
</g></g>
<text x="1803" y="46.3" font-size="36.5" fill="#fff">1.10 s</text>
<rect x="61" y="0" width="322" height="1" fill="#a2a29e"/>
<rect x="405.5" y="0" width="322.2" height="1" fill="#a2a29e"/>
<rect x="750.3" y="0" width="318.7" height="1" fill="#a2a29e"/>
<rect x="1095.5" y="0" width="318.5" height="1" fill="#a2a29e"/>
<rect x="1436.6" y="0" width="322.2" height="1" fill="#a2a29e"/>
<rect x="1781.6" y="0" width="319" height="1" fill="#a2a29e"/>
<text x="4" y="38" font-size="44" font-weight="bold">a</text>
<rect x="60" y="256" width="2035" height="19.5" fill="url(#cb)"/>
<text x="82" y="319" font-size="35.5" text-anchor="middle">300</text>
<text x="312" y="319" font-size="35.5" text-anchor="middle">400</text>
<text x="553" y="319" font-size="35.5" text-anchor="middle">500</text>
<text x="794" y="319" font-size="35.5" text-anchor="middle">600</text>
<text x="1035" y="319" font-size="35.5" text-anchor="middle">700</text>
<text x="1275" y="319" font-size="35.5" text-anchor="middle">800</text>
<text x="1526" y="319" font-size="35.5" text-anchor="middle">900</text>
<text x="1787" y="319" font-size="35.5" text-anchor="middle">1000</text>
<text x="1989.5" y="319" font-size="35.5">1100 °C</text>
<text x="5" y="428" font-size="43" font-weight="bold">b</text>
<rect x="113.3" y="376" width="196.2" height="673" fill="#ffeddf"/>
<rect x="309.5" y="376" width="1761.5" height="673" fill="#e3f6fd"/>
<text x="131" y="422.5" font-size="36" font-weight="bold">On</text>
<text x="2001" y="422" font-size="36" font-weight="bold">Off</text>
<polyline points="112.3,985.6 308.3,973.4 504.3,968.8 700.3,968.8 896.3,968.8 1092.3,970.2 1288.3,971.0 1484.3,973.5 1680.3,976.0 1876.3,979.2 2072.3,983.0" fill="none" stroke="#1414d2" stroke-width="2.8" stroke-linejoin="round"/>
<circle cx="112.3" cy="985.6" r="18.4" fill="url(#bgf)" stroke="#1414d2" stroke-width="4.2"/>
<circle cx="308.3" cy="973.4" r="18.4" fill="url(#bgf)" stroke="#1414d2" stroke-width="4.2"/>
<circle cx="504.3" cy="968.8" r="18.4" fill="url(#bgf)" stroke="#1414d2" stroke-width="4.2"/>
<circle cx="700.3" cy="968.8" r="18.4" fill="url(#bgf)" stroke="#1414d2" stroke-width="4.2"/>
<circle cx="896.3" cy="968.8" r="18.4" fill="url(#bgf)" stroke="#1414d2" stroke-width="4.2"/>
<circle cx="1092.3" cy="970.2" r="18.4" fill="url(#bgf)" stroke="#1414d2" stroke-width="4.2"/>
<circle cx="1288.3" cy="971.0" r="18.4" fill="url(#bgf)" stroke="#1414d2" stroke-width="4.2"/>
<circle cx="1484.3" cy="973.5" r="18.4" fill="url(#bgf)" stroke="#1414d2" stroke-width="4.2"/>
<circle cx="1680.3" cy="976.0" r="18.4" fill="url(#bgf)" stroke="#1414d2" stroke-width="4.2"/>
<circle cx="1876.3" cy="979.2" r="18.4" fill="url(#bgf)" stroke="#1414d2" stroke-width="4.2"/>
<circle cx="2072.3" cy="983.0" r="18.4" fill="url(#bgf)" stroke="#1414d2" stroke-width="4.2"/>
<polyline points="112.3,838.0 308.3,807.3 504.3,793.3 700.3,792.5 896.3,795.6 1092.3,800.2 1288.3,806.0 1484.3,813.0 1680.3,820.0 1876.3,826.5 2072.3,833.5" fill="none" stroke="#127a1a" stroke-width="2.8" stroke-linejoin="round"/>
<circle cx="112.3" cy="838.0" r="18.4" fill="url(#bgf)" stroke="#127a1a" stroke-width="4.2"/>
<circle cx="308.3" cy="807.3" r="18.4" fill="url(#bgf)" stroke="#127a1a" stroke-width="4.2"/>
<circle cx="504.3" cy="793.3" r="18.4" fill="url(#bgf)" stroke="#127a1a" stroke-width="4.2"/>
<circle cx="700.3" cy="792.5" r="18.4" fill="url(#bgf)" stroke="#127a1a" stroke-width="4.2"/>
<circle cx="896.3" cy="795.6" r="18.4" fill="url(#bgf)" stroke="#127a1a" stroke-width="4.2"/>
<circle cx="1092.3" cy="800.2" r="18.4" fill="url(#bgf)" stroke="#127a1a" stroke-width="4.2"/>
<circle cx="1288.3" cy="806.0" r="18.4" fill="url(#bgf)" stroke="#127a1a" stroke-width="4.2"/>
<circle cx="1484.3" cy="813.0" r="18.4" fill="url(#bgf)" stroke="#127a1a" stroke-width="4.2"/>
<circle cx="1680.3" cy="820.0" r="18.4" fill="url(#bgf)" stroke="#127a1a" stroke-width="4.2"/>
<circle cx="1876.3" cy="826.5" r="18.4" fill="url(#bgf)" stroke="#127a1a" stroke-width="4.2"/>
<circle cx="2072.3" cy="833.5" r="18.4" fill="url(#bgf)" stroke="#127a1a" stroke-width="4.2"/>
<polyline points="112.3,716.5 308.3,447.7 504.3,492.6 700.3,541.4 896.3,581.0 1092.3,613.6 1288.3,644.7 1484.3,671.4 1680.3,695.0 1876.3,716.5 2072.3,729.0" fill="none" stroke="#c81ad8" stroke-width="2.8" stroke-linejoin="round"/>
<circle cx="112.3" cy="716.5" r="18.4" fill="url(#bgf)" stroke="#e01ee6" stroke-width="4.2"/>
<circle cx="308.3" cy="447.7" r="18.4" fill="url(#bgf)" stroke="#e01ee6" stroke-width="4.2"/>
<circle cx="504.3" cy="492.6" r="18.4" fill="url(#bgf)" stroke="#e01ee6" stroke-width="4.2"/>
<circle cx="700.3" cy="541.4" r="18.4" fill="url(#bgf)" stroke="#e01ee6" stroke-width="4.2"/>
<circle cx="896.3" cy="581.0" r="18.4" fill="url(#bgf)" stroke="#e01ee6" stroke-width="4.2"/>
<circle cx="1092.3" cy="613.6" r="18.4" fill="url(#bgf)" stroke="#e01ee6" stroke-width="4.2"/>
<circle cx="1288.3" cy="644.7" r="18.4" fill="url(#bgf)" stroke="#e01ee6" stroke-width="4.2"/>
<circle cx="1484.3" cy="671.4" r="18.4" fill="url(#bgf)" stroke="#e01ee6" stroke-width="4.2"/>
<circle cx="1680.3" cy="695.0" r="18.4" fill="url(#bgf)" stroke="#e01ee6" stroke-width="4.2"/>
<circle cx="1876.3" cy="716.5" r="18.4" fill="url(#bgf)" stroke="#e01ee6" stroke-width="4.2"/>
<circle cx="2072.3" cy="729.0" r="18.4" fill="url(#bgf)" stroke="#e01ee6" stroke-width="4.2"/>
<polyline points="112.3,716.2 308.3,426.3 504.3,474.2 700.3,526.4 896.3,572.1 1092.3,607.5 1288.3,638.9 1484.3,668.0 1680.3,693.8 1876.3,715.9 2072.3,730.8" fill="none" stroke="#c8141e" stroke-width="2.8" stroke-linejoin="round"/>
<circle cx="112.3" cy="716.2" r="18.4" fill="url(#bgf)" stroke="#dc1419" stroke-width="4.2"/>
<circle cx="308.3" cy="426.3" r="18.4" fill="url(#bgf)" stroke="#dc1419" stroke-width="4.2"/>
<circle cx="504.3" cy="474.2" r="18.4" fill="url(#bgf)" stroke="#dc1419" stroke-width="4.2"/>
<circle cx="700.3" cy="526.4" r="18.4" fill="url(#bgf)" stroke="#dc1419" stroke-width="4.2"/>
<circle cx="896.3" cy="572.1" r="18.4" fill="url(#bgf)" stroke="#dc1419" stroke-width="4.2"/>
<circle cx="1092.3" cy="607.5" r="18.4" fill="url(#bgf)" stroke="#dc1419" stroke-width="4.2"/>
<circle cx="1288.3" cy="638.9" r="18.4" fill="url(#bgf)" stroke="#dc1419" stroke-width="4.2"/>
<circle cx="1484.3" cy="668.0" r="18.4" fill="url(#bgf)" stroke="#dc1419" stroke-width="4.2"/>
<circle cx="1680.3" cy="693.8" r="18.4" fill="url(#bgf)" stroke="#dc1419" stroke-width="4.2"/>
<circle cx="1876.3" cy="715.9" r="18.4" fill="url(#bgf)" stroke="#dc1419" stroke-width="4.2"/>
<circle cx="2072.3" cy="730.8" r="18.4" fill="url(#bgf)" stroke="#dc1419" stroke-width="4.2"/>
<line x1="77.2" y1="384" x2="77.2" y2="1050.3" stroke="#000" stroke-width="3" stroke-linecap="round"/>
<line x1="76.1" y1="1049" x2="2109" y2="1049" stroke="#000" stroke-width="2.6"/>
<line x1="112.3" y1="1027" x2="112.3" y2="1049" stroke="#000" stroke-width="2.6"/>
<line x1="308.3" y1="1038" x2="308.3" y2="1049" stroke="#000" stroke-width="2.6"/>
<line x1="504.3" y1="1027" x2="504.3" y2="1049" stroke="#000" stroke-width="2.6"/>
<line x1="700.3" y1="1038" x2="700.3" y2="1049" stroke="#000" stroke-width="2.6"/>
<line x1="896.3" y1="1027" x2="896.3" y2="1049" stroke="#000" stroke-width="2.6"/>
<line x1="1092.3" y1="1038" x2="1092.3" y2="1049" stroke="#000" stroke-width="2.6"/>
<line x1="1288.3" y1="1027" x2="1288.3" y2="1049" stroke="#000" stroke-width="2.6"/>
<line x1="1484.3" y1="1038" x2="1484.3" y2="1049" stroke="#000" stroke-width="2.6"/>
<line x1="1680.3" y1="1027" x2="1680.3" y2="1049" stroke="#000" stroke-width="2.6"/>
<line x1="1876.3" y1="1038" x2="1876.3" y2="1049" stroke="#000" stroke-width="2.6"/>
<line x1="2072.3" y1="1027" x2="2072.3" y2="1049" stroke="#000" stroke-width="2.6"/>
<text x="112.3" y="1090" font-size="36" text-anchor="middle">0</text>
<text x="504.0" y="1090" font-size="36" text-anchor="middle">0.22</text>
<text x="897.0" y="1090" font-size="36" text-anchor="middle">0.44</text>
<text x="1295.0" y="1090" font-size="36" text-anchor="middle">0.66</text>
<text x="1685.5" y="1090" font-size="36" text-anchor="middle">0.88</text>
<text x="2071.7" y="1090" font-size="36" text-anchor="middle">1.10</text>
<text x="1121.5" y="1124" font-size="36" text-anchor="middle">Time (s)</text>
<text transform="translate(42.5 718) rotate(-90)" font-size="37.5" text-anchor="middle">Temperature (°C)</text>
<polygon points="345.2,420.8 415.7,420.8 415.4,426.3 433.9,417.4 415.4,408.5 415.7,414.0 345.2,414.0" fill="#f00c0c"/>
<text x="446" y="431.7" font-size="38" fill="#dc1419">~1050 <tspan dx="-3">°C</tspan></text>
<text x="1923.5" y="640.3" font-size="35" fill="#dc1419">~710 <tspan dx="-3">°C</tspan></text>
<polygon points="2047.0,698.4 2021.0,661.9 2024.9,659.5 2009.1,651.1 2011.8,668.8 2015.3,665.9 2041.2,702.4" fill="#f00c0c"/>
<text x="136" y="903.7" font-size="36.5" fill="#127a1a">~590 <tspan dx="-3">°C</tspan></text>
<text x="1934" y="943" font-size="35" fill="#1414d2">~420 <tspan dx="-3">°C</tspan></text>
</svg></body></html>
